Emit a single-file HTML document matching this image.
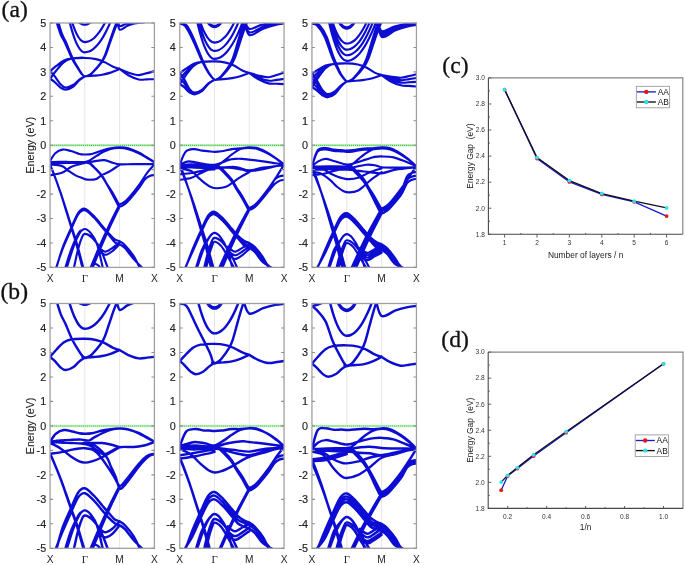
<!DOCTYPE html>
<html><head><meta charset="utf-8"><style>
html,body{margin:0;padding:0;background:#fff;}
svg{display:block;will-change:transform;filter:blur(0.3px);}
.tl{font-family:"Liberation Sans",sans-serif;font-size:10.8px;fill:#222;stroke:#222;stroke-width:0.15px;}
.xl{font-family:"Liberation Sans",sans-serif;font-size:10.2px;fill:#262626;}
.xg{font-family:"Liberation Serif",serif;font-size:10.8px;fill:#262626;}
.yl{font-family:"Liberation Sans",sans-serif;font-size:10.6px;fill:#222;stroke:#222;stroke-width:0.12px;}
.gl{font-family:"Liberation Sans",sans-serif;font-size:6.6px;fill:#333;}
.gt{font-family:"Liberation Sans",sans-serif;font-size:8.4px;fill:#1a1a1a;}
.lg{font-family:"Liberation Sans",sans-serif;font-size:8.4px;fill:#111;}
.pl{font-family:"Liberation Serif",serif;font-size:23.6px;fill:#111;stroke:#111;stroke-width:0.3px;}
</style></head><body>
<svg width="685" height="565" viewBox="0 0 685 565">
<rect width="685" height="565" fill="#fff"/>
<clipPath id="c1"><rect x="50.05" y="23" width="104.35" height="244.4"/></clipPath>
<line x1="84.83" y1="23" x2="84.83" y2="267.4" stroke="#e0e0e0" stroke-width="0.8"/>
<line x1="119.62" y1="23" x2="119.62" y2="267.4" stroke="#e0e0e0" stroke-width="0.8"/>
<line x1="50.05" y1="145.3" x2="154.4" y2="145.3" stroke="#c4f2c4" stroke-width="2.4"/>
<line x1="50.05" y1="145.3" x2="154.4" y2="145.3" stroke="#3cbf3c" stroke-width="1.2" stroke-dasharray="1,1.05"/>
<g clip-path="url(#c1)"><path d="M56.1,20.56C56.83,22.79 59.04,30.33 60.5,33.99C61.96,37.64 63,38.53 64.87,42.51C66.73,46.5 69.44,53.5 71.67,57.89C73.91,62.28 76.49,66.08 78.25,68.87C80.02,71.65 81.15,73.37 82.25,74.61C83.34,75.84 83.9,76.11 84.83,76.28C85.77,76.45 86.62,76.16 87.85,75.61C89.09,75.06 89.98,75.1 92.22,72.99C94.46,70.88 99.07,65.89 101.28,62.96C103.49,60.04 103.99,58.89 105.48,55.44C106.96,51.98 108.68,46.42 110.18,42.23C111.67,38.04 113.07,33.92 114.44,30.31C115.81,26.69 117.74,22.18 118.4,20.56 M57.88,20.56C58.56,22.79 60.63,30.33 62,33.99C63.37,37.64 64.35,38.53 66.1,42.51C67.85,46.5 70.39,53.5 72.49,57.89C74.58,62.28 77.01,66.08 78.66,68.87C80.31,71.65 81.38,73.37 82.41,74.61C83.44,75.84 83.94,76.11 84.83,76.28C85.73,76.45 86.57,76.16 87.76,75.61C88.95,75.06 89.82,75.1 91.99,72.99C94.16,70.88 98.63,65.89 100.77,62.96C102.91,60.04 103.4,58.89 104.83,55.44C106.27,51.98 107.94,46.42 109.39,42.23C110.84,38.04 112.19,33.92 113.52,30.31C114.85,26.69 116.72,22.18 117.36,20.56 M70.18,15.67C70.53,16.84 71.58,20.52 72.27,22.67C72.97,24.83 73.67,26.8 74.37,28.6C75.06,30.39 75.76,32.01 76.46,33.44C77.16,34.88 77.86,36.14 78.55,37.22C79.25,38.29 79.95,39.19 80.65,39.91C81.34,40.63 82.04,41.17 82.74,41.52C83.44,41.88 83.92,42.06 84.83,42.06C85.74,42.06 87.07,41.88 88.2,41.52C89.32,41.17 90.44,40.63 91.56,39.91C92.68,39.19 93.8,38.29 94.92,37.22C96.04,36.14 97.16,34.88 98.28,33.44C99.4,32.01 100.52,30.39 101.64,28.6C102.76,26.8 103.89,24.83 105.01,22.67C106.13,20.52 107.81,16.84 108.37,15.67 M68.11,15.67C68.51,17.29 69.7,22.4 70.5,25.39C71.3,28.39 72.09,31.13 72.89,33.62C73.69,36.12 74.48,38.36 75.28,40.36C76.07,42.35 76.87,44.1 77.67,45.59C78.46,47.09 79.26,48.34 80.06,49.34C80.85,50.33 81.65,51.08 82.44,51.58C83.24,52.08 83.76,52.33 84.83,52.33C85.9,52.33 87.52,52.08 88.86,51.58C90.2,51.08 91.55,50.33 92.89,49.34C94.23,48.34 95.57,47.09 96.92,45.59C98.26,44.1 99.6,42.35 100.94,40.36C102.29,38.36 103.63,36.12 104.97,33.62C106.31,31.13 107.66,28.39 109,25.39C110.34,22.4 112.36,17.29 113.03,15.67 M78.82,22.25C79.16,22.48 80.2,23.26 80.83,23.62C81.45,23.97 81.91,24.18 82.58,24.36C83.25,24.55 84.08,24.71 84.83,24.71C85.58,24.71 86.42,24.55 87.09,24.36C87.76,24.18 88.21,23.97 88.84,23.62C89.47,23.26 90.51,22.48 90.84,22.25 M50.05,71.15C51.09,70.28 54.05,67.69 56.31,65.97C58.57,64.24 61.18,62 63.62,60.78C66.05,59.57 67.38,59.15 70.92,58.68C74.46,58.21 80.66,57.87 84.83,57.95C89.01,58.03 92.72,58.48 95.96,59.17C99.21,59.86 101.53,60.88 104.31,62.1C107.09,63.33 110.11,65.36 112.66,66.5C115.21,67.64 118.46,68.54 119.62,68.95 M50.05,78.72C51.09,77.35 54.05,73.25 56.31,70.51C58.57,67.77 61.18,64.27 63.62,62.3C66.05,60.33 67.38,59.41 70.92,58.68C74.46,57.96 80.66,57.87 84.83,57.95C89.01,58.03 92.72,58.48 95.96,59.17C99.21,59.86 101.53,60.88 104.31,62.1C107.09,63.33 110.11,65.36 112.66,66.5C115.21,67.64 118.46,68.54 119.62,68.95 M50.05,71.15C50.75,71.88 52.48,73.38 54.22,75.57C55.96,77.75 58.57,82.25 60.48,84.25C62.4,86.24 63.62,87.39 65.7,87.52C67.79,87.66 70.75,86.36 73.01,85.05C75.27,83.74 77.3,81.11 79.27,79.65C81.24,78.19 83.91,76.84 84.83,76.28 M50.05,78.72C50.75,79.22 52.48,80.23 54.22,81.69C55.96,83.16 58.57,86.18 60.48,87.52C62.4,88.86 63.62,89.85 65.7,89.72C67.79,89.59 70.75,88.33 73.01,86.76C75.27,85.2 77.3,82.06 79.27,80.31C81.24,78.56 83.91,76.95 84.83,76.28 M84.83,76.28C86.34,76.18 90.98,75.93 93.88,75.67C96.78,75.4 99.44,75.2 102.22,74.69C105.01,74.18 107.67,73.57 110.57,72.61C113.47,71.66 118.11,69.56 119.62,68.95 M119.62,68.95C121.07,69.56 125.12,71.59 128.31,72.61C131.5,73.63 135.62,74.98 138.75,75.06C141.88,75.14 144.49,73.75 147.1,73.1C149.7,72.45 153.18,71.47 154.4,71.15 M119.62,68.95C121.07,70 125.12,73.5 128.31,75.25C131.5,77 135.62,78.78 138.75,79.46C141.88,80.14 144.49,79.37 147.1,79.33C149.7,79.29 153.18,79.23 154.4,79.21 M117.15,18.11C117.56,19.42 118.21,24.97 119.62,25.93C121.03,26.9 123.73,24.45 125.6,23.92C127.47,23.38 129.34,22.98 130.83,22.71C132.33,22.43 133.08,22.42 134.57,22.27C136.07,22.11 138.92,21.86 139.79,21.78 M117.15,18.11C117.56,20.03 117.89,28.31 119.62,29.6C121.34,30.89 125.02,26.84 127.48,25.84C129.93,24.83 132.39,24.09 134.36,23.58C136.32,23.06 137.58,22.97 139.27,22.76C140.96,22.54 143.62,22.35 144.49,22.27 M50.05,161.09C50.92,159.78 53.18,155.18 55.27,153.27C57.35,151.35 59.96,149.97 62.57,149.6C65.18,149.23 68.14,150.33 70.92,151.07C73.7,151.8 76.95,153.43 79.27,154C81.59,154.57 82.75,154.49 84.83,154.49C86.92,154.49 88.89,154.67 91.79,154C94.69,153.33 99.09,151.39 102.22,150.45C105.36,149.52 107.67,148.89 110.57,148.38C113.47,147.87 116.66,147.4 119.62,147.4C122.57,147.4 125.12,147.52 128.31,148.38C131.5,149.23 135.62,151 138.75,152.53C141.88,154.06 144.49,155.99 147.1,157.54C149.7,159.09 153.18,161.11 154.4,161.82 M50.05,162.31C51.79,162.23 57.01,161.86 60.48,161.82C63.96,161.78 66.86,162.02 70.92,162.06C74.98,162.1 81.7,162.35 84.83,162.06C87.96,161.78 87.67,161.43 89.7,160.36C91.73,159.3 94.92,157.01 97.01,155.68C99.09,154.36 99.96,153.56 102.22,152.42C104.49,151.29 107.67,149.64 110.57,148.88C113.47,148.12 116.66,147.85 119.62,147.89C122.57,147.93 125.12,148.21 128.31,149.11C131.5,150.01 135.62,151.78 138.75,153.27C141.88,154.75 144.49,156.52 147.1,158.03C149.7,159.54 153.18,161.6 154.4,162.31 M50.05,163.29C52.66,163.24 59.91,163.12 65.7,163.04C71.5,162.96 80.14,163.08 84.83,162.8C89.53,162.51 90.63,161.78 93.88,161.33C97.12,160.88 101.18,159.88 104.31,160.11C107.44,160.33 110.11,161.98 112.66,162.67C115.21,163.37 116.14,164.02 119.62,164.26C123.09,164.51 127.73,164.18 133.53,164.14C139.33,164.1 150.92,164.04 154.4,164.02 M50.05,175.26C52.02,174.85 58.36,174.2 61.84,172.82C65.32,171.43 67.98,168.38 70.92,166.95C73.86,165.53 77.16,164.91 79.48,164.26C81.8,163.61 83.94,163.24 84.83,163.04 M50.05,164.51C52.02,164.76 58.85,165.01 61.84,166.02C64.83,167.03 65.79,169.05 68,170.57C70.21,172.08 72.82,173.9 75.09,175.11C77.37,176.33 79.58,177.08 81.67,177.84C83.76,178.6 85.18,179.48 87.62,179.66C90.05,179.84 93.96,179.67 96.28,178.93C98.59,178.18 99.29,176.43 101.49,175.19C103.7,173.94 106.51,173.2 109.53,171.46C112.55,169.72 117.94,165.87 119.62,164.75 M84.83,162.31C85.58,162.39 87.52,161.78 89.29,162.8C91.05,163.82 93.36,166.3 95.44,168.42C97.53,170.54 99.86,172.86 101.81,175.51C103.76,178.15 105.36,181.46 107.13,184.3C108.9,187.15 110.68,189.58 112.45,192.57C114.23,195.56 116.58,200.28 117.77,202.24C118.97,204.2 118.38,204.48 119.62,204.34C120.85,204.21 123.49,202.67 125.18,201.41C126.87,200.15 127.39,199.62 129.77,196.77C132.16,193.92 136.56,188.34 139.48,184.3C142.4,180.27 144.82,175.87 147.3,172.57C149.79,169.27 153.22,165.85 154.4,164.51 M84.83,162.8C85.58,162.88 87.52,162.27 89.29,163.29C91.05,164.3 93.36,166.79 95.44,168.91C97.53,171.02 99.86,173.35 101.81,175.99C103.76,178.64 105.36,181.71 107.13,184.79C108.9,187.87 110.68,191.17 112.45,194.47C114.23,197.77 116.58,202.54 117.77,204.59C118.97,206.64 118.38,206.91 119.62,206.79C120.85,206.67 123.49,205.12 125.18,203.86C126.87,202.59 127.39,201.98 129.77,199.21C132.16,196.44 136.94,190.58 139.48,187.24C142.02,183.9 143.22,181.09 145.01,179.17C146.8,177.26 148.66,176.44 150.23,175.75C151.79,175.06 153.7,175.14 154.4,175.02 M50.05,164.75C50.59,166.04 51.56,167.83 53.28,172.45C55.01,177.07 58.41,186.56 60.4,192.47C62.4,198.37 63.58,202.48 65.25,207.86C66.93,213.25 68.6,218.81 70.43,224.8C72.26,230.79 74.26,236.69 76.25,243.79C78.25,250.89 81.21,262.95 82.4,267.4C83.58,271.85 83.21,269.97 83.37,270.48 M50.05,165.24C50.6,166.52 51.6,168.31 53.37,172.9C55.14,177.5 58.62,186.95 60.67,192.82C62.71,198.7 63.93,202.78 65.65,208.15C67.36,213.51 69.08,219.04 70.96,225C72.84,230.96 74.88,236.84 76.93,243.9C78.97,250.97 82.02,262.97 83.23,267.4C84.45,271.83 84.06,269.95 84.23,270.46 M55.79,269.84C56.92,266.18 60.12,254.57 62.57,247.85C65.02,241.13 67.89,235.34 70.5,229.52C73.11,223.69 75.84,216.36 78.22,212.9C80.61,209.44 82.22,208.21 84.83,208.74C87.44,209.27 90.98,213.22 93.88,216.08C96.78,218.93 99.77,223 102.22,225.85C104.68,228.7 106.5,230.94 108.59,233.18C110.68,235.42 112.91,237.95 114.75,239.29C116.58,240.64 117.88,240.23 119.62,241.25C121.36,242.27 122.86,242.96 125.18,245.4C127.5,247.85 130.92,251.84 133.53,255.91C136.14,259.99 139.62,267.52 140.83,269.84 M55.48,269.84C56.66,266.37 60.07,255.52 62.57,249.02C65.08,242.52 67.89,236.61 70.5,230.84C73.11,225.06 75.84,217.8 78.22,214.37C80.61,210.93 82.22,209.68 84.83,210.21C87.44,210.74 90.98,214.69 93.88,217.54C96.78,220.39 99.77,224.47 102.22,227.32C104.68,230.17 106.5,232.17 108.59,234.65C110.68,237.14 112.91,240.64 114.75,242.23C116.58,243.82 117.88,243.16 119.62,244.18C121.36,245.2 122.86,245.89 125.18,248.34C127.5,250.78 130.31,255.26 133.53,258.85C136.75,262.43 142.66,268.01 144.49,269.84 M89.7,269.84C91.35,265.91 96.28,253.8 99.57,246.26C102.87,238.73 106.11,231.64 109.45,224.65C112.79,217.66 117.92,207.73 119.62,204.34 M91.79,269.84C93.32,266.06 97.91,254.4 100.97,247.14C104.03,239.89 107.05,233.06 110.16,226.34C113.26,219.61 118.04,210.05 119.62,206.79 M66.22,269.84C67.37,266.18 70.88,253.96 73.11,247.85C75.34,241.74 77.67,236.32 79.62,233.18C81.58,230.05 82.98,229.03 84.83,229.03C86.68,229.03 88.7,230.66 90.73,233.18C92.76,235.71 94.91,238.07 97,244.18C99.09,250.29 102.22,265.57 103.27,269.84 M73.53,269.84C74.23,266.67 76.35,256.08 77.71,250.78C79.07,245.49 80.48,240.88 81.67,238.07C82.86,235.26 83.04,233.92 84.83,233.92C86.62,233.92 89.8,235.55 92.4,238.07C95,240.6 97.76,243.77 100.44,249.07C103.12,254.37 107.15,266.38 108.49,269.84 M98.05,246.63C98.75,247.24 100.83,249.48 102.22,250.29C103.62,251.11 104.66,251.92 106.4,251.51C108.14,251.11 110.46,249.4 112.66,247.85C114.86,246.3 118.46,243.16 119.62,242.23 M98.05,249.8C98.75,250.41 100.83,252.65 102.22,253.47C103.62,254.28 104.66,255.1 106.4,254.69C108.14,254.28 110.46,252.78 112.66,251.03C114.86,249.27 118.46,245.32 119.62,244.18 M64.66,269.84C65.7,266.59 68.83,255.99 70.92,250.29C73.01,244.59 75.62,238.89 77.18,235.63C78.75,232.37 79.79,231.55 80.31,230.74 M89.7,269.84C90.22,268.95 91.79,265.44 92.83,264.47C93.88,263.49 94.92,263.69 95.96,263.98C97.01,264.26 98.22,265.2 99.09,266.18C99.96,267.16 100.83,269.23 101.18,269.84" fill="none" stroke="#0c0cd2" stroke-width="2.15" stroke-linejoin="round" stroke-linecap="round"/></g>
<rect x="50.05" y="23" width="104.35" height="244.4" fill="none" stroke="#a0a0a0" stroke-width="1.3"/>
<path d="M50.05,267.4h3M154.4,267.4h-3M50.05,242.96h3M154.4,242.96h-3M50.05,218.52h3M154.4,218.52h-3M50.05,194.08h3M154.4,194.08h-3M50.05,169.64h3M154.4,169.64h-3M50.05,145.2h3M154.4,145.2h-3M50.05,120.76h3M154.4,120.76h-3M50.05,96.32h3M154.4,96.32h-3M50.05,71.88h3M154.4,71.88h-3M50.05,47.44h3M154.4,47.44h-3M50.05,23h3M154.4,23h-3" stroke="#909090" stroke-width="1.1" fill="none"/>
<text x="46.15" y="271.25" text-anchor="end" class="tl">-5</text>
<text x="46.15" y="246.81" text-anchor="end" class="tl">-4</text>
<text x="46.15" y="222.37" text-anchor="end" class="tl">-3</text>
<text x="46.15" y="197.93" text-anchor="end" class="tl">-2</text>
<text x="46.15" y="173.49" text-anchor="end" class="tl">-1</text>
<text x="46.15" y="149.05" text-anchor="end" class="tl">0</text>
<text x="46.15" y="124.61" text-anchor="end" class="tl">1</text>
<text x="46.15" y="100.17" text-anchor="end" class="tl">2</text>
<text x="46.15" y="75.73" text-anchor="end" class="tl">3</text>
<text x="46.15" y="51.29" text-anchor="end" class="tl">4</text>
<text x="46.15" y="26.85" text-anchor="end" class="tl">5</text>
<text x="50.05" y="281.6" text-anchor="middle" class="xl">X</text>
<text x="84.83" y="281.6" text-anchor="middle" class="xg">Γ</text>
<text x="119.62" y="281.6" text-anchor="middle" class="xl">M</text>
<text x="154.4" y="281.6" text-anchor="middle" class="xl">X</text>
<text transform="translate(33.6,145.2) rotate(-90)" text-anchor="middle" class="yl">Energy (eV)</text>
<clipPath id="c2"><rect x="179.75" y="23" width="104.3" height="244.4"/></clipPath>
<line x1="214.52" y1="23" x2="214.52" y2="267.4" stroke="#e0e0e0" stroke-width="0.8"/>
<line x1="249.28" y1="23" x2="249.28" y2="267.4" stroke="#e0e0e0" stroke-width="0.8"/>
<line x1="179.75" y1="145.3" x2="284.05" y2="145.3" stroke="#c4f2c4" stroke-width="2.4"/>
<line x1="179.75" y1="145.3" x2="284.05" y2="145.3" stroke="#3cbf3c" stroke-width="1.2" stroke-dasharray="1,1.05"/>
<g clip-path="url(#c2)"><path d="M179.75,23.73C180.62,24.1 182.88,23.41 184.97,25.93C187.05,28.46 189.35,32.86 192.27,38.89C195.19,44.91 199.71,56.32 202.49,62.1C205.27,67.89 206.95,70.66 208.95,73.59C210.96,76.52 213.14,78.8 214.52,79.7C215.9,80.6 216.13,79.57 217.24,78.99C218.34,78.41 219.15,78.45 221.16,76.21C223.18,73.97 227.33,68.67 229.32,65.57C231.31,62.46 231.76,61.25 233.1,57.58C234.43,53.91 235.98,48.01 237.33,43.56C238.67,39.12 239.93,34.74 241.16,30.91C242.4,27.07 244.13,22.28 244.73,20.56 M181,23.73C181.84,24.1 184.02,23.41 186.03,25.93C188.04,28.46 190.25,32.86 193.07,38.89C195.88,44.91 200.24,56.32 202.92,62.1C205.6,67.89 207.22,70.66 209.15,73.59C211.09,76.52 213.15,78.8 214.52,79.7C215.89,80.6 216.21,79.57 217.37,78.99C218.53,78.41 219.37,78.45 221.48,76.21C223.6,73.97 227.95,68.67 230.04,65.57C232.12,62.46 232.6,61.25 234,57.58C235.39,53.91 237.02,48.01 238.43,43.56C239.84,39.12 241.16,34.74 242.45,30.91C243.75,27.07 245.57,22.28 246.19,20.56 M182.25,23.73C183.06,24.1 185.16,23.41 187.09,25.93C189.03,28.46 191.16,32.86 193.87,38.89C196.58,44.91 200.77,56.32 203.35,62.1C205.93,67.89 207.49,70.66 209.35,73.59C211.22,76.52 213.16,78.8 214.52,79.7C215.88,80.6 216.29,79.57 217.51,78.99C218.73,78.41 219.61,78.45 221.83,76.21C224.04,73.97 228.61,68.67 230.8,65.57C232.99,62.46 233.49,61.25 234.96,57.58C236.43,53.91 238.13,48.01 239.61,43.56C241.09,39.12 242.47,34.74 243.83,30.91C245.19,27.07 247.1,22.28 247.75,20.56 M198.21,15.67C198.6,16.86 199.76,20.61 200.54,22.8C201.32,25 202.09,27.01 202.87,28.84C203.65,30.66 204.42,32.31 205.2,33.77C205.97,35.24 206.75,36.52 207.53,37.61C208.3,38.71 209.08,39.63 209.86,40.36C210.63,41.09 211.41,41.64 212.19,42C212.96,42.37 213.58,42.55 214.52,42.55C215.45,42.55 216.69,42.37 217.78,42C218.87,41.64 219.95,41.09 221.04,40.36C222.13,39.63 223.21,38.71 224.3,37.61C225.39,36.52 226.48,35.24 227.56,33.77C228.65,32.31 229.74,30.66 230.82,28.84C231.91,27.01 233,25 234.09,22.8C235.17,20.61 236.8,16.86 237.35,15.67 M197.13,15.67C197.54,17.22 198.78,22.13 199.61,25.01C200.44,27.88 201.27,30.51 202.1,32.91C202.92,35.3 203.75,37.45 204.58,39.37C205.41,41.29 206.24,42.96 207.06,44.4C207.89,45.83 208.72,47.03 209.55,47.99C210.38,48.95 211.2,49.66 212.03,50.14C212.86,50.62 213.47,50.86 214.52,50.86C215.56,50.86 217.05,50.62 218.31,50.14C219.58,49.66 220.84,48.95 222.11,47.99C223.37,47.03 224.64,45.83 225.9,44.4C227.17,42.96 228.43,41.29 229.7,39.37C230.97,37.45 232.23,35.3 233.5,32.91C234.76,30.51 236.03,27.88 237.29,25.01C238.56,22.13 240.45,17.22 241.09,15.67 M195.82,15.67C196.27,17.58 197.6,23.61 198.49,27.14C199.38,30.68 200.27,33.91 201.16,36.86C202.05,39.8 202.94,42.45 203.83,44.8C204.72,47.16 205.62,49.22 206.51,50.98C207.4,52.75 208.29,54.22 209.18,55.4C210.07,56.57 210.96,57.46 211.85,58.04C212.74,58.63 213.34,58.93 214.52,58.93C215.69,58.93 217.42,58.63 218.88,58.04C220.33,57.46 221.78,56.57 223.24,55.4C224.69,54.22 226.14,52.75 227.6,50.98C229.05,49.22 230.5,47.16 231.96,44.8C233.41,42.45 234.86,39.8 236.32,36.86C237.77,33.91 239.22,30.68 240.68,27.14C242.13,23.61 244.31,17.58 245.04,15.67 M206.63,21.17C207.07,21.73 208.44,23.64 209.26,24.5C210.08,25.35 210.68,25.87 211.56,26.31C212.44,26.76 213.53,27.15 214.52,27.15C215.5,27.15 216.6,26.76 217.47,26.31C218.35,25.87 218.95,25.35 219.77,24.5C220.59,23.64 221.96,21.73 222.4,21.17 M207.57,21.71C207.96,22.1 209.16,23.45 209.89,24.06C210.61,24.66 211.14,25.03 211.91,25.34C212.68,25.65 213.65,25.93 214.52,25.93C215.38,25.93 216.35,25.65 217.12,25.34C217.89,25.03 218.42,24.66 219.15,24.06C219.87,23.45 221.08,22.1 221.46,21.71 M179.75,73.35C180.79,72.56 183.75,70.22 186.01,68.65C188.27,67.09 190.88,65.05 193.31,63.96C195.74,62.87 197.08,62.54 200.61,62.1C204.14,61.67 210.34,61.29 214.52,61.37C218.69,61.45 222.4,61.9 225.64,62.59C228.89,63.29 231.2,64.22 233.99,65.53C236.77,66.83 239.78,69.19 242.33,70.41C244.88,71.64 248.12,72.45 249.28,72.86 M179.75,78.72C180.79,77.58 183.75,74.16 186.01,71.88C188.27,69.6 190.88,66.67 193.31,65.04C195.74,63.41 197.08,62.71 200.61,62.1C204.14,61.49 210.34,61.29 214.52,61.37C218.69,61.45 222.4,61.9 225.64,62.59C228.89,63.29 231.2,64.22 233.99,65.53C236.77,66.83 239.78,69.19 242.33,70.41C244.88,71.64 248.12,72.45 249.28,72.86 M179.75,84.1C180.79,82.6 183.75,78.1 186.01,75.11C188.27,72.11 190.88,68.28 193.31,66.11C195.74,63.95 197.08,62.89 200.61,62.1C204.14,61.31 210.34,61.29 214.52,61.37C218.69,61.45 222.4,61.9 225.64,62.59C228.89,63.29 231.2,64.22 233.99,65.53C236.77,66.83 239.78,69.19 242.33,70.41C244.88,71.64 248.12,72.45 249.28,72.86 M179.75,73.35C180.45,74.22 182.32,75.99 183.92,78.56C185.52,81.13 187.57,86.44 189.35,88.79C191.12,91.14 192.47,92.49 194.56,92.65C196.65,92.82 199.6,91.32 201.86,89.8C204.12,88.29 206.01,85.27 208.12,83.59C210.23,81.9 213.45,80.35 214.52,79.7 M179.75,78.72C180.45,79.39 182.32,80.76 183.92,82.75C185.52,84.74 187.57,88.84 189.35,90.65C191.12,92.46 192.47,93.65 194.56,93.63C196.65,93.62 199.6,92.19 201.86,90.57C204.12,88.94 206.01,85.69 208.12,83.88C210.23,82.07 213.45,80.4 214.52,79.7 M179.75,84.1C180.45,84.56 182.32,85.5 183.92,86.87C185.52,88.24 187.57,91.06 189.35,92.31C191.12,93.56 192.47,94.56 194.56,94.36C196.65,94.17 199.6,92.85 201.86,91.14C204.12,89.43 206.01,86.01 208.12,84.1C210.23,82.19 213.45,80.43 214.52,79.7 M214.52,79.7C216.02,79.6 220.66,79.35 223.56,79.09C226.45,78.83 229.12,78.58 231.9,78.11C234.68,77.64 237.35,77.15 240.24,76.28C243.14,75.4 247.78,73.43 249.28,72.86 M249.28,72.86C250.73,73.3 254.79,74.76 257.98,75.5C261.16,76.23 265.28,77.35 268.4,77.26C271.53,77.16 274.14,75.71 276.75,74.94C279.36,74.16 282.83,73 284.05,72.61 M249.28,72.86C250.73,73.64 254.79,76.25 257.98,77.55C261.16,78.85 265.28,80.3 268.4,80.68C271.53,81.06 274.14,80.11 276.75,79.82C279.36,79.54 282.83,79.11 284.05,78.97 M249.28,72.86C250.73,73.91 254.79,77.41 257.98,79.16C261.16,80.91 265.28,82.61 268.4,83.37C271.53,84.13 274.14,83.61 276.75,83.73C279.36,83.86 282.83,84.04 284.05,84.1 M243.48,18.11C244.44,19.9 246.55,27.66 249.28,28.87C252.01,30.08 256.55,26.3 259.85,25.37C263.16,24.44 266.46,23.75 269.1,23.27C271.74,22.8 273.74,22.72 275.71,22.51C277.68,22.3 280.05,22.1 280.92,22.02 M243.48,18.11C244.44,20.47 246.21,30.78 249.28,32.29C252.36,33.8 257.98,28.54 261.94,27.18C265.89,25.82 269.85,24.81 273.01,24.11C276.18,23.42 278.73,23.27 280.92,23C283.11,22.73 285.27,22.59 286.14,22.51 M243.48,18.11C244.44,20.92 246,33.22 249.28,34.98C252.57,36.73 258.84,30.34 263.19,28.66C267.54,26.97 271.88,25.73 275.36,24.87C278.84,24.01 281.73,23.8 284.05,23.49C286.37,23.18 288.4,23.08 289.26,23 M179.75,164.51C180.74,162.38 183.32,154.32 185.66,151.75C188.01,149.18 191.08,149.31 193.83,149.11C196.58,148.91 199.65,150.21 202.17,150.58C204.7,150.94 206.9,151.11 208.95,151.31C211.01,151.51 212.43,151.8 214.52,151.8C216.6,151.8 218.57,151.76 221.47,151.31C224.37,150.86 228.77,149.6 231.9,149.11C235.03,148.62 237.35,148.66 240.24,148.38C243.14,148.09 246.33,147.4 249.28,147.4C252.24,147.4 254.79,147.41 257.98,148.38C261.16,149.34 265.28,151.45 268.4,153.2C271.53,154.96 274.14,157 276.75,158.89C279.36,160.77 282.83,163.57 284.05,164.51 M179.75,164.75C180.62,164.34 183.44,162.88 184.97,162.31C186.49,161.74 187.19,161.33 188.93,161.33C190.67,161.33 192.58,161.82 195.4,162.31C198.21,162.8 202.64,163.86 205.82,164.26C209.01,164.67 211.91,165 214.52,164.75C217.12,164.51 219.09,163.61 221.47,162.8C223.85,161.98 226.51,160.52 228.77,159.86C231.03,159.21 232.77,159.05 235.03,158.89C237.29,158.72 239.95,158.76 242.33,158.89C244.71,159.01 245.81,159.21 249.28,159.62C252.76,160.03 258.79,160.72 263.19,161.33C267.59,161.94 272.23,162.76 275.71,163.29C279.18,163.82 282.66,164.3 284.05,164.51 M179.75,165.24C181.49,165.08 186.7,164.34 190.18,164.26C193.66,164.18 196.55,164.55 200.61,164.75C204.67,164.96 211.39,165.57 214.52,165.49C217.65,165.4 217.36,165.4 219.38,164.26C221.41,163.12 224.6,160.27 226.69,158.64C228.77,157.01 229.64,156.08 231.9,154.49C234.16,152.9 237.35,150.21 240.24,149.11C243.14,148.01 246.33,147.89 249.28,147.89C252.24,147.89 254.79,148.13 257.98,149.11C261.16,150.09 265.28,152.08 268.4,153.75C271.53,155.42 274.14,157.3 276.75,159.13C279.36,160.96 282.83,163.82 284.05,164.75 M179.75,165.97C181.49,166.01 186.7,166.14 190.18,166.22C193.66,166.3 196.55,166.38 200.61,166.46C204.67,166.54 211.04,166.58 214.52,166.71C217.99,166.83 218.57,166.99 221.47,167.2C224.37,167.4 228.42,167.52 231.9,167.93C235.38,168.34 239.43,169.07 242.33,169.64C245.23,170.21 245.81,171.43 249.28,171.35C252.76,171.27 258.79,170.01 263.19,169.15C267.59,168.3 272.23,166.95 275.71,166.22C279.18,165.49 282.66,165 284.05,164.75 M179.75,167.2C182.36,167.28 189.6,167.48 195.4,167.68C201.19,167.89 209.3,168.5 214.52,168.42C219.73,168.34 222.92,167.4 226.69,167.2C230.45,166.99 233.35,166.67 237.12,167.2C240.88,167.73 244.94,170.29 249.28,170.37C253.63,170.45 257.4,168.54 263.19,167.68C268.98,166.83 280.57,165.65 284.05,165.24 M179.75,174.28C181.71,174.08 188.06,173.59 191.54,173.06C195.01,172.53 197.67,171.68 200.61,171.11C203.55,170.54 206.84,169.93 209.16,169.64C211.48,169.35 213.62,169.44 214.52,169.4 M179.75,179.9C181.71,179.54 188.06,178.81 191.54,177.71C195.01,176.61 197.67,174.73 200.61,173.31C203.55,171.88 206.84,170.09 209.16,169.15C211.48,168.21 213.62,167.93 214.52,167.68 M179.75,168.42C181.71,168.87 188.55,169.68 191.54,171.11C194.53,172.53 195.48,174.98 197.69,176.97C199.9,178.97 202.5,181.37 204.78,183.08C207.06,184.79 209.27,186.38 211.35,187.24C213.44,188.09 214.86,188.3 217.3,188.21C219.73,188.13 223.52,187.6 225.95,186.75C228.39,185.89 229.69,184.55 231.9,183.08C234.11,181.62 236.3,179.78 239.2,177.95C242.1,176.12 247.6,173.06 249.28,172.08 M214.52,165.97C215.26,166.06 217.2,165.44 218.97,166.46C220.73,167.48 223.03,169.97 225.12,172.08C227.21,174.2 229.54,176.52 231.48,179.17C233.43,181.82 235.03,185.15 236.8,187.97C238.58,190.79 240.35,193.11 242.12,196.06C243.89,199.02 246.25,203.73 247.44,205.68C248.63,207.63 248.05,207.91 249.28,207.77C250.52,207.63 253.15,206.1 254.85,204.83C256.54,203.57 257.05,203.04 259.44,200.19C261.82,197.34 266.21,191.76 269.14,187.73C272.06,183.69 274.47,179.82 276.96,175.99C279.44,172.17 282.87,166.63 284.05,164.75 M214.52,166.71C215.26,166.79 217.2,166.18 218.97,167.2C220.73,168.21 223.03,170.7 225.12,172.82C227.21,174.94 229.54,177.26 231.48,179.9C233.43,182.55 235.03,185.86 236.8,188.7C238.58,191.55 240.35,193.98 242.12,196.97C243.89,199.96 246.25,204.68 247.44,206.64C248.63,208.6 248.05,208.88 249.28,208.74C250.52,208.61 253.15,207.07 254.85,205.81C256.54,204.55 257.05,203.94 259.44,201.17C261.82,198.4 266.6,192.78 269.14,189.19C271.67,185.61 272.87,181.82 274.66,179.66C276.45,177.5 278.31,176.93 279.88,176.24C281.44,175.55 283.35,175.63 284.05,175.51 M214.52,167.68C215.26,167.77 217.2,167.16 218.97,168.17C220.73,169.19 223.03,171.68 225.12,173.79C227.21,175.91 229.54,178.23 231.48,180.88C233.43,183.53 235.03,186.81 236.8,189.68C238.58,192.55 240.35,195.1 242.12,198.13C243.89,201.16 246.25,205.88 247.44,207.85C248.63,209.83 248.05,210.1 249.28,209.97C250.52,209.83 253.15,208.3 254.85,207.03C256.54,205.77 257.05,205.16 259.44,202.39C261.82,199.62 266.6,193.47 269.14,190.41C271.67,187.36 272.87,185.69 274.66,184.06C276.45,182.43 278.31,181.33 279.88,180.64C281.44,179.95 283.35,180.03 284.05,179.9 M179.75,164.75C180.27,166.04 181.2,167.83 182.86,172.45C184.52,177.07 187.78,186.56 189.7,192.47C191.61,198.37 192.75,202.48 194.36,207.86C195.96,213.25 197.57,218.81 199.33,224.8C201.09,230.79 203.01,236.69 204.93,243.79C206.84,250.89 209.69,262.95 210.83,267.4C211.97,271.85 211.61,269.97 211.76,270.48 M179.75,165.97C180.29,167.24 181.26,169.02 182.98,173.58C184.71,178.15 188.1,187.53 190.1,193.36C192.09,199.19 193.28,203.25 194.95,208.57C196.62,213.9 198.29,219.39 200.12,225.31C201.95,231.22 203.95,237.06 205.94,244.07C207.93,251.09 210.9,263 212.08,267.4C213.27,271.8 212.89,269.94 213.05,270.44 M179.75,167.2C180.31,168.45 181.32,170.2 183.11,174.71C184.9,179.22 188.43,188.49 190.5,194.25C192.57,200.01 193.8,204.02 195.53,209.28C197.27,214.54 199.01,219.97 200.91,225.82C202.81,231.66 204.88,237.42 206.95,244.35C209.02,251.28 212.1,263.06 213.33,267.4C214.57,271.74 214.17,269.91 214.34,270.41 M184.86,269.84C186.09,266.57 189.71,256.48 192.27,250.19C194.82,243.91 197.59,237.88 200.19,232.16C202.8,226.43 205.52,219.25 207.91,215.83C210.3,212.42 211.91,211.15 214.52,211.68C217.12,212.21 220.66,216.16 223.56,219.01C226.45,221.86 229.45,225.93 231.9,228.78C234.35,231.64 236.18,234.08 238.26,236.12C240.35,238.15 242.58,239.86 244.42,241C246.25,242.15 247.54,241.94 249.28,242.96C251.02,243.98 252.53,244.67 254.85,247.11C257.16,249.56 260.76,253.84 263.19,257.62C265.62,261.41 268.4,267.81 269.45,269.84 M184.6,269.84C185.88,266.73 189.67,257.27 192.27,251.17C194.86,245.07 197.59,238.94 200.19,233.26C202.8,227.57 205.52,220.45 207.91,217.05C210.3,213.66 211.91,212.37 214.52,212.9C217.12,213.43 220.66,217.38 223.56,220.23C226.45,223.08 229.45,227.16 231.9,230.01C234.35,232.86 236.18,235.1 238.26,237.34C240.35,239.58 242.58,242.1 244.42,243.45C246.25,244.79 247.54,244.39 249.28,245.4C251.02,246.42 252.53,247.11 254.85,249.56C257.16,252 260.23,256.69 263.19,260.07C266.15,263.45 271.01,268.21 272.58,269.84 M184.29,269.84C185.62,266.93 189.62,258.22 192.27,252.34C194.92,246.47 197.59,240.21 200.19,234.58C202.8,228.94 205.52,221.89 207.91,218.52C210.3,215.15 211.91,213.84 214.52,214.37C217.12,214.89 220.66,218.85 223.56,221.7C226.45,224.55 229.45,228.62 231.9,231.47C234.35,234.32 236.18,236.4 238.26,238.81C240.35,241.21 242.58,244.39 244.42,245.89C246.25,247.4 247.54,246.83 249.28,247.85C251.02,248.87 252.53,249.56 254.85,252C257.16,254.45 259.71,259.54 263.19,262.51C266.67,265.49 273.62,268.62 275.71,269.84 M218.34,269.84C220.04,266.12 225.15,254.63 228.55,247.5C231.96,240.36 235.31,233.63 238.76,227.01C242.22,220.39 247.53,210.97 249.28,207.77 M219.91,269.84C221.52,266.18 226.37,254.87 229.6,247.85C232.83,240.82 236.01,234.2 239.29,227.68C242.58,221.17 247.62,211.9 249.28,208.74 M221.47,269.84C223,266.25 227.59,255.17 230.65,248.29C233.71,241.4 236.72,234.92 239.83,228.53C242.93,222.14 247.71,213.06 249.28,209.97 M196.44,269.84C197.55,266.57 200.96,255.65 203.13,250.19C205.3,244.74 207.56,239.97 209.45,237.09C211.35,234.22 212.69,232.94 214.52,232.94C216.34,232.94 218.39,234.57 220.41,237.09C222.44,239.62 224.59,242.63 226.68,248.09C228.77,253.55 231.9,266.22 232.94,269.84 M203.74,269.84C204.4,267.06 206.43,257.77 207.73,253.13C209.02,248.48 210.37,244.53 211.5,241.98C212.63,239.43 212.75,237.83 214.52,237.83C216.28,237.83 219.48,239.46 222.08,241.98C224.68,244.51 227.44,248.34 230.12,252.98C232.8,257.62 236.82,267.03 238.16,269.84 M205.82,269.84C206.36,267.45 208,259.47 209.04,255.47C210.08,251.48 211.17,248.18 212.08,245.89C213,243.6 213.02,241.74 214.52,241.74C216.02,241.74 218.82,243.37 221.08,245.89C223.34,248.42 225.73,252.9 228.05,256.89C230.38,260.88 233.87,267.69 235.03,269.84 M227.73,246.63C228.42,247.24 230.51,249.48 231.9,250.29C233.29,251.11 234.33,251.92 236.07,251.51C237.81,251.11 240.13,249.07 242.33,247.85C244.53,246.63 248.12,244.79 249.28,244.18 M227.73,250.29C228.42,250.9 230.51,253.14 231.9,253.96C233.29,254.77 234.33,255.59 236.07,255.18C237.81,254.77 240.13,252.94 242.33,251.51C244.53,250.09 248.12,247.44 249.28,246.63 M227.73,253.96C228.42,254.57 230.51,256.81 231.9,257.62C233.29,258.44 234.33,259.25 236.07,258.85C237.81,258.44 240.13,256.81 242.33,255.18C244.53,253.55 248.12,250.09 249.28,249.07 M195.4,269.84C196.44,266.59 199.57,255.38 201.65,250.29C203.74,245.2 206.35,241.82 207.91,239.29C209.48,236.77 210.52,235.83 211.04,235.14" fill="none" stroke="#0c0cd2" stroke-width="2.15" stroke-linejoin="round" stroke-linecap="round"/></g>
<rect x="179.75" y="23" width="104.3" height="244.4" fill="none" stroke="#a0a0a0" stroke-width="1.3"/>
<path d="M179.75,267.4h3M284.05,267.4h-3M179.75,242.96h3M284.05,242.96h-3M179.75,218.52h3M284.05,218.52h-3M179.75,194.08h3M284.05,194.08h-3M179.75,169.64h3M284.05,169.64h-3M179.75,145.2h3M284.05,145.2h-3M179.75,120.76h3M284.05,120.76h-3M179.75,96.32h3M284.05,96.32h-3M179.75,71.88h3M284.05,71.88h-3M179.75,47.44h3M284.05,47.44h-3M179.75,23h3M284.05,23h-3" stroke="#909090" stroke-width="1.1" fill="none"/>
<text x="175.85" y="271.25" text-anchor="end" class="tl">-5</text>
<text x="175.85" y="246.81" text-anchor="end" class="tl">-4</text>
<text x="175.85" y="222.37" text-anchor="end" class="tl">-3</text>
<text x="175.85" y="197.93" text-anchor="end" class="tl">-2</text>
<text x="175.85" y="173.49" text-anchor="end" class="tl">-1</text>
<text x="175.85" y="149.05" text-anchor="end" class="tl">0</text>
<text x="175.85" y="124.61" text-anchor="end" class="tl">1</text>
<text x="175.85" y="100.17" text-anchor="end" class="tl">2</text>
<text x="175.85" y="75.73" text-anchor="end" class="tl">3</text>
<text x="175.85" y="51.29" text-anchor="end" class="tl">4</text>
<text x="175.85" y="26.85" text-anchor="end" class="tl">5</text>
<text x="179.75" y="281.6" text-anchor="middle" class="xl">X</text>
<text x="214.52" y="281.6" text-anchor="middle" class="xg">Γ</text>
<text x="249.28" y="281.6" text-anchor="middle" class="xl">M</text>
<text x="284.05" y="281.6" text-anchor="middle" class="xl">X</text>
<clipPath id="c3"><rect x="311.95" y="23" width="104.5" height="244.4"/></clipPath>
<line x1="346.78" y1="23" x2="346.78" y2="267.4" stroke="#e0e0e0" stroke-width="0.8"/>
<line x1="381.62" y1="23" x2="381.62" y2="267.4" stroke="#e0e0e0" stroke-width="0.8"/>
<line x1="311.95" y1="145.3" x2="416.45" y2="145.3" stroke="#c4f2c4" stroke-width="2.4"/>
<line x1="311.95" y1="145.3" x2="416.45" y2="145.3" stroke="#3cbf3c" stroke-width="1.2" stroke-dasharray="1,1.05"/>
<g clip-path="url(#c3)"><path d="M311.95,23.98C312.8,24.22 314.96,23.33 317.07,25.44C319.18,27.56 322.1,31.47 324.59,36.69C327.09,41.9 329.59,50.86 332.01,56.73C334.43,62.59 337.24,68.34 339.12,71.88C341,75.42 342.02,76.4 343.3,77.99C344.58,79.58 345.72,80.96 346.78,81.41C347.84,81.86 348.49,81.28 349.67,80.68C350.84,80.08 351.7,80.12 353.83,77.82C355.97,75.52 360.38,70.06 362.49,66.87C364.6,63.67 365.08,62.42 366.49,58.65C367.91,54.88 369.55,48.8 370.98,44.23C372.4,39.65 373.74,35.15 375.05,31.21C376.36,27.26 378.2,22.33 378.83,20.56 M313,23.98C313.82,24.22 315.92,23.33 317.96,25.44C320.01,27.56 322.84,31.47 325.26,36.69C327.68,41.9 330.11,50.86 332.46,56.73C334.81,62.59 337.53,68.34 339.35,71.88C341.17,75.42 342.17,76.4 343.4,77.99C344.64,79.58 345.72,80.96 346.78,81.41C347.84,81.86 348.55,81.28 349.76,80.68C350.97,80.08 351.86,80.12 354.06,77.82C356.27,75.52 360.82,70.06 363,66.87C365.18,63.67 365.67,62.42 367.13,58.65C368.6,54.88 370.29,48.8 371.77,44.23C373.24,39.65 374.62,35.15 375.97,31.21C377.32,27.26 379.22,22.33 379.88,20.56 M314.04,23.98C314.84,24.22 316.87,23.33 318.85,25.44C320.83,27.56 323.58,31.47 325.93,36.69C328.27,41.9 330.62,50.86 332.9,56.73C335.18,62.59 337.81,68.34 339.58,71.88C341.35,75.42 342.31,76.4 343.51,77.99C344.71,79.58 345.73,80.96 346.78,81.41C347.84,81.86 348.6,81.28 349.86,80.68C351.11,80.08 352.02,80.12 354.29,77.82C356.57,75.52 361.26,70.06 363.51,66.87C365.76,63.67 366.27,62.42 367.78,58.65C369.29,54.88 371.04,48.8 372.56,44.23C374.08,39.65 375.5,35.15 376.89,31.21C378.29,27.26 380.25,22.33 380.92,20.56 M315.08,23.98C315.86,24.22 317.83,23.33 319.74,25.44C321.66,27.56 324.33,31.47 326.59,36.69C328.86,41.9 331.14,50.86 333.34,56.73C335.55,62.59 338.1,68.34 339.81,71.88C341.52,75.42 342.45,76.4 343.61,77.99C344.78,79.58 345.73,80.96 346.78,81.41C347.84,81.86 348.66,81.28 349.95,80.68C351.24,80.08 352.18,80.12 354.52,77.82C356.87,75.52 361.71,70.06 364.02,66.87C366.34,63.67 366.87,62.42 368.42,58.65C369.97,54.88 371.78,48.8 373.35,44.23C374.91,39.65 376.38,35.15 377.81,31.21C379.25,27.26 381.27,22.33 381.96,20.56 M330.55,15.67C330.94,16.9 332.1,20.79 332.87,23.06C333.64,25.33 334.42,27.42 335.19,29.31C335.96,31.21 336.74,32.92 337.51,34.43C338.28,35.95 339.05,37.27 339.83,38.41C340.6,39.55 341.37,40.5 342.15,41.26C342.92,42.01 343.69,42.58 344.46,42.96C345.24,43.34 345.86,43.53 346.78,43.53C347.71,43.53 348.95,43.34 350.03,42.96C351.11,42.58 352.19,42.01 353.28,41.26C354.36,40.5 355.44,39.55 356.52,38.41C357.6,37.27 358.69,35.95 359.77,34.43C360.85,32.92 361.93,31.21 363.02,29.31C364.1,27.42 365.18,25.33 366.26,23.06C367.34,20.79 368.97,16.9 369.51,15.67 M329.87,15.67C330.27,17.17 331.48,21.91 332.29,24.68C333.09,27.45 333.9,30 334.7,32.31C335.51,34.62 336.31,36.7 337.12,38.55C337.92,40.4 338.73,42.01 339.53,43.4C340.34,44.79 341.15,45.94 341.95,46.87C342.76,47.79 343.56,48.48 344.37,48.95C345.17,49.41 345.77,49.64 346.78,49.64C347.79,49.64 349.22,49.41 350.44,48.95C351.65,48.48 352.87,47.79 354.09,46.87C355.31,45.94 356.52,44.79 357.74,43.4C358.96,42.01 360.18,40.4 361.39,38.55C362.61,36.7 363.83,34.62 365.05,32.31C366.26,30 367.48,27.45 368.7,24.68C369.92,21.91 371.74,17.17 372.35,15.67 M329.03,15.67C329.45,17.42 330.72,22.94 331.57,26.17C332.41,29.4 333.26,32.37 334.1,35.06C334.95,37.75 335.79,40.18 336.64,42.33C337.49,44.49 338.33,46.37 339.18,47.99C340.02,49.6 340.87,50.95 341.71,52.03C342.56,53.11 343.4,53.91 344.25,54.45C345.09,54.99 345.68,55.26 346.78,55.26C347.89,55.26 349.5,54.99 350.86,54.45C352.22,53.91 353.58,53.11 354.94,52.03C356.3,50.95 357.66,49.6 359.02,47.99C360.38,46.37 361.74,44.49 363.1,42.33C364.46,40.18 365.82,37.75 367.18,35.06C368.54,32.37 369.9,29.4 371.26,26.17C372.62,22.94 374.66,17.42 375.34,15.67 M327.57,15.67C328.02,17.67 329.4,23.97 330.31,27.66C331.23,31.35 332.14,34.74 333.06,37.81C333.97,40.89 334.89,43.66 335.8,46.12C336.72,48.58 337.63,50.73 338.55,52.58C339.46,54.42 340.38,55.96 341.29,57.19C342.21,58.42 343.12,59.34 344.04,59.96C344.95,60.57 345.57,60.88 346.78,60.88C347.99,60.88 349.79,60.57 351.3,59.96C352.8,59.34 354.3,58.42 355.81,57.19C357.31,55.96 358.82,54.42 360.32,52.58C361.82,50.73 363.33,48.58 364.83,46.12C366.34,43.66 367.84,40.89 369.34,37.81C370.85,34.74 372.35,31.35 373.86,27.66C375.36,23.97 377.62,17.67 378.37,15.67 M337.75,20.53C338.26,21.28 339.82,23.86 340.76,25.02C341.7,26.18 342.39,26.88 343.4,27.48C344.4,28.08 345.65,28.62 346.78,28.62C347.91,28.62 349.17,28.08 350.17,27.48C351.17,26.88 351.86,26.18 352.8,25.02C353.74,23.86 355.31,21.28 355.81,20.53 M338.7,21.06C339.14,21.65 340.55,23.68 341.39,24.58C342.23,25.49 342.85,26.04 343.75,26.51C344.65,26.98 345.77,27.4 346.78,27.4C347.79,27.4 348.92,26.98 349.82,26.51C350.72,26.04 351.33,25.49 352.18,24.58C353.02,23.68 354.42,21.65 354.87,21.06 M311.95,73.59C313,72.92 315.96,70.92 318.22,69.58C320.48,68.25 323.1,66.5 325.53,65.57C327.97,64.65 329.31,64.43 332.85,64.06C336.39,63.68 342.6,63.24 346.78,63.33C350.96,63.41 354.68,63.86 357.93,64.55C361.18,65.24 363.5,66.14 366.29,67.48C369.08,68.83 372.1,71.35 374.65,72.61C377.2,73.88 380.46,74.65 381.62,75.06 M311.95,78.23C313,77.26 315.96,74.32 318.22,72.37C320.48,70.41 323.1,67.89 325.53,66.5C327.97,65.12 329.31,64.59 332.85,64.06C336.39,63.53 342.6,63.24 346.78,63.33C350.96,63.41 354.68,63.86 357.93,64.55C361.18,65.24 363.5,66.14 366.29,67.48C369.08,68.83 372.1,71.35 374.65,72.61C377.2,73.88 380.46,74.65 381.62,75.06 M311.95,82.88C313,81.59 315.96,77.73 318.22,75.15C320.48,72.58 323.1,69.28 325.53,67.43C327.97,65.58 329.31,64.74 332.85,64.06C336.39,63.37 342.6,63.24 346.78,63.33C350.96,63.41 354.68,63.86 357.93,64.55C361.18,65.24 363.5,66.14 366.29,67.48C369.08,68.83 372.1,71.35 374.65,72.61C377.2,73.88 380.46,74.65 381.62,75.06 M311.95,87.03C313,85.47 315.96,80.78 318.22,77.65C320.48,74.52 323.1,70.53 325.53,68.26C327.97,66 329.31,64.88 332.85,64.06C336.39,63.24 342.6,63.24 346.78,63.33C350.96,63.41 354.68,63.86 357.93,64.55C361.18,65.24 363.5,66.14 366.29,67.48C369.08,68.83 372.1,71.35 374.65,72.61C377.2,73.88 380.46,74.65 381.62,75.06 M311.95,73.59C312.65,74.51 314.39,76.4 316.13,79.13C317.87,81.87 320.48,87.52 322.4,90.01C324.32,92.51 325.53,93.9 327.62,94.12C329.72,94.34 332.68,92.81 334.94,91.32C337.2,89.84 339.24,86.88 341.21,85.22C343.18,83.57 345.85,82.05 346.78,81.41 M311.95,78.23C312.65,78.99 314.39,80.54 316.13,82.79C317.87,85.04 320.48,89.67 322.4,91.73C324.32,93.78 325.53,95.04 327.62,95.1C329.72,95.16 332.68,93.68 334.94,92.09C337.2,90.49 339.24,87.3 341.21,85.52C343.18,83.74 345.85,82.1 346.78,81.41 M311.95,82.88C312.65,83.48 314.39,84.72 316.13,86.51C317.87,88.3 320.48,92 322.4,93.63C324.32,95.27 325.53,96.42 327.62,96.32C329.72,96.22 332.68,94.78 334.94,93.04C337.2,91.3 339.24,87.82 341.21,85.88C343.18,83.95 345.85,82.16 346.78,81.41 M311.95,87.03C312.65,87.49 314.39,88.44 316.13,89.8C317.87,91.17 320.48,94 322.4,95.24C324.32,96.49 325.53,97.54 327.62,97.3C329.72,97.06 332.68,95.66 334.94,93.8C337.2,91.95 339.24,88.24 341.21,86.18C343.18,84.11 345.85,82.21 346.78,81.41 M346.78,81.41C348.29,81.31 352.94,81.07 355.84,80.8C358.74,80.54 361.41,80.25 364.2,79.82C366.99,79.4 369.66,79.03 372.56,78.23C375.46,77.44 380.11,75.59 381.62,75.06 M381.62,75.06C383.07,75.33 387.13,76.22 390.32,76.67C393.52,77.12 397.64,77.85 400.77,77.75C403.91,77.64 406.52,76.61 409.13,76.03C411.75,75.46 415.23,74.61 416.45,74.32 M381.62,75.06C383.07,75.57 387.13,77.28 390.32,78.14C393.52,78.99 397.64,80.03 400.77,80.19C403.91,80.35 406.52,79.46 409.13,79.09C411.75,78.72 415.23,78.17 416.45,77.99 M381.62,75.06C383.07,75.81 387.13,78.34 390.32,79.6C393.52,80.87 397.64,82.19 400.77,82.63C403.91,83.08 406.52,82.39 409.13,82.27C411.75,82.14 415.23,81.96 416.45,81.9 M381.62,75.06C383.07,76.08 387.13,79.51 390.32,81.22C393.52,82.93 397.64,84.54 400.77,85.32C403.91,86.11 406.52,85.73 409.13,85.93C411.75,86.14 415.23,86.44 416.45,86.54 M377.58,18.11C378.25,20.27 378.83,29.65 381.62,31.07C384.4,32.48 390.33,27.81 394.3,26.63C398.26,25.45 402.22,24.57 405.39,23.97C408.56,23.36 411.12,23.24 413.31,23C415.51,22.76 417.67,22.59 418.54,22.51 M377.58,18.11C378.25,20.6 378.62,31.41 381.62,33.02C384.61,34.63 391.2,29.18 395.55,27.78C399.9,26.38 404.26,25.35 407.74,24.63C411.23,23.92 414.13,23.76 416.45,23.49C418.77,23.22 420.8,23.08 421.68,23 M377.58,18.11C378.25,20.92 378.62,33.15 381.62,34.98C384.61,36.8 391.2,30.64 395.55,29.06C399.9,27.48 404.26,26.32 407.74,25.51C411.23,24.71 414.13,24.52 416.45,24.22C418.77,23.93 420.8,23.81 421.68,23.73 M377.58,18.11C378.25,21.25 378.62,34.89 381.62,36.93C384.61,38.97 391.2,32.1 395.55,30.34C399.9,28.59 404.26,27.29 407.74,26.39C411.23,25.49 414.13,25.28 416.45,24.96C418.77,24.63 420.8,24.55 421.68,24.47 M311.95,166.22C312.92,163.56 315.44,153.27 317.74,150.26C320.04,147.24 323.02,148.24 325.74,148.13C328.47,148.02 331.53,149.27 334.1,149.6C336.68,149.93 339.1,149.93 341.21,150.09C343.32,150.25 344.69,150.58 346.78,150.58C348.87,150.58 350.85,150.43 353.75,150.09C356.65,149.74 361.06,148.78 364.2,148.5C367.33,148.21 369.66,148.56 372.56,148.38C375.46,148.19 378.66,147.4 381.62,147.4C384.58,147.4 387.13,147.34 390.32,148.38C393.52,149.42 397.64,151.74 400.77,153.63C403.91,155.53 406.52,157.64 409.13,159.74C411.75,161.84 415.23,165.14 416.45,166.22 M311.95,166.22C312.89,163.76 315.34,154.29 317.57,151.48C319.8,148.67 322.64,149.46 325.33,149.35C328.01,149.24 331.04,150.5 333.69,150.82C336.33,151.15 339.03,151.15 341.21,151.31C343.39,151.47 344.69,151.8 346.78,151.8C348.87,151.8 350.85,151.68 353.75,151.31C356.65,150.94 361.06,149.93 364.2,149.6C367.33,149.27 369.66,149.56 372.56,149.35C375.46,149.15 378.66,148.38 381.62,148.38C384.58,148.38 387.13,148.32 390.32,149.35C393.52,150.39 397.64,152.8 400.77,154.61C403.91,156.42 406.52,158.3 409.13,160.23C411.75,162.17 415.23,165.22 416.45,166.22 M311.95,166.22C313,165.4 315.96,162.55 318.22,161.33C320.48,160.11 322.75,158.89 325.53,158.89C328.32,158.89 331.4,160.39 334.94,161.33C338.48,162.27 343.3,164.26 346.78,164.51C350.27,164.75 352.59,163.65 355.84,162.8C359.09,161.94 363.15,160.35 366.29,159.38C369.42,158.4 372.1,157.42 374.65,156.93C377.2,156.44 378.48,156.36 381.62,156.44C384.75,156.52 389.4,156.52 393.46,157.42C397.52,158.32 402.17,160.35 406,161.82C409.83,163.29 414.71,165.49 416.45,166.22 M311.95,166.71C314.56,166.63 321.82,166.26 327.62,166.22C333.43,166.18 342.78,166.71 346.78,166.46C350.79,166.22 349.63,166.06 351.66,164.75C353.69,163.45 356.88,160.35 358.97,158.64C361.06,156.93 361.94,155.99 364.2,154.49C366.46,152.98 369.66,150.62 372.56,149.6C375.46,148.58 378.66,148.38 381.62,148.38C384.58,148.38 387.13,148.58 390.32,149.6C393.52,150.62 397.64,152.78 400.77,154.49C403.91,156.2 406.52,157.87 409.13,159.86C411.75,161.86 415.23,165.36 416.45,166.46 M311.95,167.2C314.56,167.28 321.82,167.48 327.62,167.68C333.43,167.89 342.08,168.58 346.78,168.42C351.49,168.26 352.59,167.32 355.84,166.71C359.09,166.1 363.15,165 366.29,164.75C369.42,164.51 372.1,164.83 374.65,165.24C377.2,165.65 378.13,166.79 381.62,167.2C385.1,167.6 389.74,167.68 395.55,167.68C401.36,167.68 412.97,167.28 416.45,167.2 M311.95,168.42C314.56,168.5 321.82,168.7 327.62,168.91C333.43,169.11 341.56,169.31 346.78,169.64C352.01,169.97 355.2,170.45 358.97,170.86C362.75,171.27 365.65,171.68 369.43,172.08C373.2,172.49 377.26,173.71 381.62,173.31C385.97,172.9 389.74,170.66 395.55,169.64C401.36,168.62 412.97,167.6 416.45,167.2 M311.95,169.64C313.92,169.6 320.28,169.56 323.76,169.4C327.24,169.23 329.91,168.91 332.85,168.66C335.79,168.42 339.1,168.13 341.42,167.93C343.74,167.73 345.89,167.52 346.78,167.44 M311.95,175.26C313.92,175.02 320.28,174.49 323.76,173.79C327.24,173.1 329.91,171.88 332.85,171.11C335.79,170.33 339.1,169.6 341.42,169.15C343.74,168.7 345.89,168.54 346.78,168.42 M311.95,168.42C313.92,168.62 320.76,168.83 323.76,169.64C326.75,170.45 327.71,172.17 329.92,173.31C332.14,174.45 334.75,175.63 337.03,176.48C339.31,177.34 341.52,177.99 343.61,178.44C345.7,178.89 347.13,179.29 349.57,179.17C352.01,179.05 355.81,178.4 358.24,177.71C360.68,177.01 361.99,176.04 364.2,175.02C366.41,174 368.61,172.69 371.51,171.6C374.42,170.5 379.93,168.95 381.62,168.42 M311.95,172.08C313.34,172.29 317.31,172 320.31,173.31C323.31,174.61 327.14,177.66 329.92,179.9C332.71,182.15 334.75,184.87 337.03,186.75C339.31,188.62 341.52,190.21 343.61,191.15C345.7,192.08 347.13,192.49 349.57,192.37C352.01,192.25 355.81,191.51 358.24,190.41C360.68,189.31 361.99,187.6 364.2,185.77C366.41,183.94 368.61,181.7 371.51,179.42C374.42,177.13 379.93,173.31 381.62,172.08 M346.78,165.97C347.53,166.06 349.47,165.44 351.24,166.46C353.01,167.48 355.32,169.97 357.41,172.08C359.5,174.2 361.83,176.52 363.78,179.17C365.73,181.82 367.33,185.1 369.11,187.97C370.89,190.84 372.66,193.39 374.44,196.42C376.22,199.44 378.57,204.17 379.77,206.14C380.97,208.11 380.38,208.39 381.62,208.26C382.85,208.12 385.49,206.59 387.19,205.32C388.89,204.06 389.4,203.53 391.79,200.68C394.17,197.83 398.58,192.25 401.51,188.21C404.43,184.18 406.85,180.15 409.34,176.48C411.83,172.82 415.27,167.93 416.45,166.22 M346.78,166.71C347.53,166.79 349.47,166.18 351.24,167.2C353.01,168.21 355.32,170.7 357.41,172.82C359.5,174.94 361.83,177.26 363.78,179.9C365.73,182.55 367.33,185.74 369.11,188.7C370.89,191.67 372.66,194.53 374.44,197.68C376.22,200.82 378.57,205.56 379.77,207.57C380.97,209.58 380.38,209.85 381.62,209.72C382.85,209.59 385.49,208.05 387.19,206.79C388.89,205.53 389.4,204.92 391.79,202.15C394.17,199.38 398.96,194.49 401.51,190.17C404.05,185.85 405.25,179.13 407.04,176.24C408.84,173.35 410.7,173.51 412.27,172.82C413.84,172.12 415.75,172.21 416.45,172.08 M346.78,167.68C347.53,167.77 349.47,167.16 351.24,168.17C353.01,169.19 355.32,171.68 357.41,173.79C359.5,175.91 361.83,178.23 363.78,180.88C365.73,183.53 367.33,186.66 369.11,189.68C370.89,192.7 372.66,195.79 374.44,199.01C376.22,202.23 378.57,206.98 379.77,209.01C380.97,211.04 380.38,211.31 381.62,211.19C382.85,211.06 385.49,209.52 387.19,208.26C388.89,206.99 389.4,206.38 391.79,203.61C394.17,200.84 398.96,195.59 401.51,191.64C404.05,187.68 405.25,182.43 407.04,179.9C408.84,177.38 410.7,177.18 412.27,176.48C413.84,175.79 415.75,175.87 416.45,175.75 M346.78,168.42C347.53,168.5 349.47,167.89 351.24,168.91C353.01,169.93 355.32,172.41 357.41,174.53C359.5,176.65 361.83,178.97 363.78,181.62C365.73,184.26 367.33,187.19 369.11,190.41C370.89,193.64 372.66,197.48 374.44,200.97C376.22,204.46 378.57,209.26 379.77,211.37C380.97,213.48 380.38,213.74 381.62,213.63C382.85,213.52 385.49,211.96 387.19,210.7C388.89,209.44 389.4,208.83 391.79,206.06C394.17,203.29 398.96,197.91 401.51,194.08C404.05,190.25 405.25,185.49 407.04,183.08C408.84,180.68 410.7,180.35 412.27,179.66C413.84,178.97 415.75,179.05 416.45,178.93 M311.95,165.97C312.45,167.24 313.35,169.02 314.96,173.58C316.56,178.15 319.72,187.53 321.58,193.36C323.44,199.19 324.54,203.25 326.1,208.57C327.65,213.9 329.21,219.39 330.91,225.31C332.62,231.22 334.47,237.06 336.33,244.07C338.18,251.09 340.94,263 342.05,267.4C343.15,271.8 342.8,269.94 342.95,270.44 M311.95,167.2C312.47,168.45 313.4,170.2 315.06,174.71C316.72,179.22 319.99,188.49 321.92,194.25C323.84,200.01 324.98,204.02 326.59,209.28C328.2,214.54 329.8,219.97 331.57,225.82C333.33,231.66 335.25,237.42 337.17,244.35C339.09,251.28 341.95,263.06 343.09,267.4C344.23,271.74 343.87,269.91 344.03,270.41 M311.95,168.42C312.49,169.66 313.45,171.39 315.17,175.84C316.89,180.3 320.26,189.45 322.25,195.14C324.23,200.83 325.41,204.79 327.08,209.99C328.74,215.19 330.4,220.55 332.23,226.32C334.05,232.1 336.04,237.79 338.02,244.63C340.01,251.48 342.96,263.11 344.14,267.4C345.32,271.69 344.94,269.87 345.1,270.37 M311.95,169.64C312.5,170.86 313.5,172.57 315.27,176.97C317.05,181.37 320.53,190.41 322.58,196.04C324.63,201.66 325.85,205.57 327.57,210.7C329.29,215.83 331,221.13 332.89,226.83C334.77,232.53 336.82,238.15 338.87,244.92C340.92,251.68 343.96,263.16 345.18,267.4C346.4,271.64 346.01,269.84 346.18,270.33 M316.76,269.84C318.05,266.76 321.88,257.43 324.49,251.37C327.1,245.31 329.82,239.16 332.43,233.48C335.04,227.8 337.77,220.69 340.16,217.3C342.56,213.91 344.17,212.61 346.78,213.14C349.4,213.67 352.94,217.62 355.84,220.48C358.74,223.33 361.74,227.4 364.2,230.25C366.66,233.1 368.48,235.59 370.57,237.58C372.66,239.58 374.9,241.13 376.74,242.23C378.58,243.33 379.88,243.16 381.62,244.18C383.36,245.2 384.87,245.89 387.19,248.34C389.51,250.78 393.11,255.26 395.55,258.85C397.99,262.43 400.77,268.01 401.82,269.84 M316.5,269.84C317.83,266.93 321.83,258.22 324.49,252.34C327.15,246.47 329.82,240.21 332.43,234.58C335.04,228.94 337.77,221.89 340.16,218.52C342.56,215.15 344.17,213.84 346.78,214.37C349.4,214.89 352.94,218.85 355.84,221.7C358.74,224.55 361.74,228.62 364.2,231.47C366.66,234.32 368.48,236.73 370.57,238.81C372.66,240.88 374.9,242.76 376.74,243.94C378.58,245.12 379.88,244.87 381.62,245.89C383.36,246.91 384.87,247.6 387.19,250.05C389.51,252.49 392.76,257.26 395.55,260.56C398.34,263.86 402.52,268.3 403.91,269.84 M316.23,269.84C317.61,267.09 321.79,259.02 324.49,253.32C327.19,247.63 329.82,241.27 332.43,235.68C335.04,230.08 337.77,223.09 340.16,219.74C342.56,216.39 344.17,215.06 346.78,215.59C349.4,216.12 352.94,220.07 355.84,222.92C358.74,225.77 361.74,229.84 364.2,232.7C366.66,235.55 368.48,237.83 370.57,240.03C372.66,242.23 374.9,244.59 376.74,245.89C378.58,247.2 379.88,246.83 381.62,247.85C383.36,248.87 384.87,249.56 387.19,252C389.51,254.45 392.42,259.54 395.55,262.51C398.69,265.49 404.26,268.62 406,269.84 M315.97,269.84C317.39,267.25 321.75,259.81 324.49,254.3C327.23,248.79 329.82,242.33 332.43,236.78C335.04,231.22 337.77,224.29 340.16,220.96C342.56,217.64 344.17,216.28 346.78,216.81C349.4,217.34 352.94,221.29 355.84,224.14C358.74,226.99 361.74,231.07 364.2,233.92C366.66,236.77 368.48,238.93 370.57,241.25C372.66,243.57 374.9,246.42 376.74,247.85C378.58,249.27 379.88,248.78 381.62,249.8C383.36,250.82 384.87,251.51 387.19,253.96C389.51,256.4 392.07,261.82 395.55,264.47C399.03,267.11 406,268.95 408.09,269.84 M350.62,269.84C352.32,266.15 357.44,254.75 360.85,247.67C364.26,240.59 367.61,233.92 371.08,227.35C374.54,220.78 379.86,211.44 381.62,208.26 M352.18,269.84C353.8,266.24 358.66,255.11 361.9,248.2C365.13,241.29 368.32,234.77 371.61,228.36C374.9,221.95 379.95,212.83 381.62,209.72 M353.75,269.84C355.28,266.32 359.88,255.47 362.95,248.73C366.01,241.98 369.03,235.63 372.14,229.37C375.25,223.11 380.04,214.22 381.62,211.19 M355.32,269.84C356.76,266.47 361.1,256.07 364,249.61C366.89,243.14 369.74,237.05 372.67,231.06C375.61,225.06 380.13,216.54 381.62,213.63 M328.67,269.84C329.79,266.69 333.2,256.18 335.37,250.93C337.55,245.67 339.81,241.11 341.71,238.32C343.61,235.52 344.95,234.16 346.78,234.16C348.61,234.16 350.66,235.79 352.69,238.32C354.72,240.84 356.88,244.06 358.97,249.31C361.06,254.57 364.2,266.42 365.25,269.84 M335.99,269.84C336.65,267.3 338.68,258.83 339.98,254.59C341.28,250.36 342.63,246.81 343.76,244.43C344.89,242.04 345.02,240.27 346.78,240.27C348.55,240.27 351.76,241.9 354.36,244.43C356.97,246.95 359.73,251.19 362.42,255.42C365.1,259.66 369.13,267.44 370.47,269.84 M338.07,269.84C338.61,267.57 340.25,259.99 341.3,256.21C342.34,252.42 343.43,249.32 344.34,247.11C345.26,244.91 345.28,242.96 346.78,242.96C348.29,242.96 351.1,244.59 353.36,247.11C355.62,249.64 358.02,254.32 360.35,258.11C362.68,261.9 366.17,267.89 367.33,269.84 M360.02,247.85C360.72,248.46 362.81,250.7 364.2,251.51C365.59,252.33 366.64,253.14 368.38,252.74C370.12,252.33 372.44,250.29 374.65,249.07C376.86,247.85 380.46,246.01 381.62,245.4 M360.02,250.29C360.72,250.9 362.81,253.14 364.2,253.96C365.59,254.77 366.64,255.59 368.38,255.18C370.12,254.77 372.44,252.74 374.65,251.51C376.86,250.29 380.46,248.46 381.62,247.85 M360.02,252.74C360.72,253.35 362.81,255.59 364.2,256.4C365.59,257.22 366.64,258.03 368.38,257.62C370.12,257.22 372.44,255.18 374.65,253.96C376.86,252.74 380.46,250.9 381.62,250.29 M360.02,255.18C360.72,255.79 362.81,258.03 364.2,258.85C365.59,259.66 366.64,260.48 368.38,260.07C370.12,259.66 372.44,257.62 374.65,256.4C376.86,255.18 380.46,253.35 381.62,252.74 M327.62,269.84C328.67,266.59 331.81,255.18 333.89,250.29C335.98,245.4 338.6,242.88 340.16,240.52C341.73,238.15 342.78,236.85 343.3,236.12" fill="none" stroke="#0c0cd2" stroke-width="2.15" stroke-linejoin="round" stroke-linecap="round"/></g>
<rect x="311.95" y="23" width="104.5" height="244.4" fill="none" stroke="#a0a0a0" stroke-width="1.3"/>
<path d="M311.95,267.4h3M416.45,267.4h-3M311.95,242.96h3M416.45,242.96h-3M311.95,218.52h3M416.45,218.52h-3M311.95,194.08h3M416.45,194.08h-3M311.95,169.64h3M416.45,169.64h-3M311.95,145.2h3M416.45,145.2h-3M311.95,120.76h3M416.45,120.76h-3M311.95,96.32h3M416.45,96.32h-3M311.95,71.88h3M416.45,71.88h-3M311.95,47.44h3M416.45,47.44h-3M311.95,23h3M416.45,23h-3" stroke="#909090" stroke-width="1.1" fill="none"/>
<text x="308.05" y="271.25" text-anchor="end" class="tl">-5</text>
<text x="308.05" y="246.81" text-anchor="end" class="tl">-4</text>
<text x="308.05" y="222.37" text-anchor="end" class="tl">-3</text>
<text x="308.05" y="197.93" text-anchor="end" class="tl">-2</text>
<text x="308.05" y="173.49" text-anchor="end" class="tl">-1</text>
<text x="308.05" y="149.05" text-anchor="end" class="tl">0</text>
<text x="308.05" y="124.61" text-anchor="end" class="tl">1</text>
<text x="308.05" y="100.17" text-anchor="end" class="tl">2</text>
<text x="308.05" y="75.73" text-anchor="end" class="tl">3</text>
<text x="308.05" y="51.29" text-anchor="end" class="tl">4</text>
<text x="308.05" y="26.85" text-anchor="end" class="tl">5</text>
<text x="311.95" y="281.6" text-anchor="middle" class="xl">X</text>
<text x="346.78" y="281.6" text-anchor="middle" class="xg">Γ</text>
<text x="381.62" y="281.6" text-anchor="middle" class="xl">M</text>
<text x="416.45" y="281.6" text-anchor="middle" class="xl">X</text>
<clipPath id="c4"><rect x="50.05" y="303.5" width="104.35" height="244.8"/></clipPath>
<line x1="84.83" y1="303.5" x2="84.83" y2="548.3" stroke="#e0e0e0" stroke-width="0.8"/>
<line x1="119.62" y1="303.5" x2="119.62" y2="548.3" stroke="#e0e0e0" stroke-width="0.8"/>
<line x1="50.05" y1="426" x2="154.4" y2="426" stroke="#c4f2c4" stroke-width="2.4"/>
<line x1="50.05" y1="426" x2="154.4" y2="426" stroke="#3cbf3c" stroke-width="1.2" stroke-dasharray="1,1.05"/>
<g clip-path="url(#c4)"><path d="M56.62,301.05C57.34,303.32 59.51,310.97 60.94,314.68C62.37,318.39 63.4,319.29 65.23,323.33C67.06,327.38 69.72,334.48 71.91,338.94C74.1,343.4 76.64,347.25 78.37,350.08C80.1,352.91 81.22,354.65 82.29,355.9C83.37,357.16 83.92,357.43 84.83,357.6C85.74,357.77 86.57,357.48 87.76,356.92C88.95,356.37 89.82,356.4 91.99,354.26C94.16,352.12 98.63,347.05 100.77,344.09C102.91,341.12 103.4,339.96 104.83,336.45C106.27,332.95 107.94,327.3 109.39,323.05C110.84,318.8 112.19,314.61 113.52,310.95C114.85,307.28 116.72,302.7 117.36,301.05 M67.6,296.16C68.01,297.6 69.24,302.14 70.06,304.79C70.88,307.45 71.7,309.89 72.52,312.1C73.34,314.32 74.17,316.31 74.99,318.08C75.81,319.85 76.63,321.41 77.45,322.73C78.27,324.06 79.09,325.17 79.91,326.06C80.73,326.94 81.55,327.61 82.37,328.05C83.19,328.49 83.75,328.71 84.83,328.71C85.91,328.71 87.52,328.49 88.86,328.05C90.2,327.61 91.54,326.94 92.89,326.06C94.23,325.17 95.57,324.06 96.91,322.73C98.25,321.41 99.6,319.85 100.94,318.08C102.28,316.31 103.62,314.32 104.96,312.1C106.31,309.89 107.65,307.45 108.99,304.79C110.33,302.14 112.34,297.6 113.02,296.16 M79.2,302.96C79.51,303.12 80.49,303.69 81.08,303.94C81.66,304.19 82.09,304.35 82.72,304.48C83.35,304.61 84.13,304.72 84.83,304.72C85.54,304.72 86.32,304.61 86.95,304.48C87.57,304.35 88,304.19 88.59,303.94C89.18,303.69 90.16,303.12 90.47,302.96 M79.95,303.39C80.22,303.42 81.07,303.54 81.58,303.59C82.09,303.64 82.46,303.67 83,303.7C83.54,303.72 84.22,303.74 84.83,303.74C85.44,303.74 86.12,303.72 86.66,303.7C87.21,303.67 87.58,303.64 88.09,303.59C88.6,303.54 89.45,303.42 89.72,303.39 M50.05,356.87C51.09,355.68 54.05,352.1 56.31,349.72C58.57,347.34 61.18,344.28 63.62,342.57C66.05,340.86 67.38,340.12 70.92,339.49C74.46,338.85 80.66,338.67 84.83,338.75C89.01,338.83 92.72,339.28 95.96,339.98C99.21,340.67 101.53,341.65 104.31,342.91C107.09,344.18 110.11,346.38 112.66,347.56C115.21,348.75 118.46,349.6 119.62,350.01 M50.05,356.87C50.75,357.46 52.47,358.67 54.22,360.44C55.98,362.2 58.66,365.83 60.59,367.44C62.52,369.05 63.72,370.1 65.81,370.09C67.89,370.07 70.85,368.8 73.11,367.34C75.37,365.88 77.42,362.97 79.37,361.35C81.33,359.72 83.92,358.23 84.83,357.6 M84.83,357.6C86.34,357.5 90.98,357.25 93.88,356.99C96.78,356.72 99.44,356.54 102.22,356.01C105.01,355.48 107.67,354.81 110.57,353.81C113.47,352.81 118.11,350.64 119.62,350.01 M119.62,350.01C121.07,350.84 125.12,353.62 128.31,355.01C131.5,356.39 135.62,357.9 138.75,358.34C141.88,358.77 144.49,357.85 147.1,357.6C149.7,357.36 153.18,356.99 154.4,356.87 M116.1,298.6C116.69,300.48 117.75,308.72 119.62,309.86C121.49,311.01 124.76,306.71 127.33,305.46C129.9,304.21 132.43,303.11 135.04,302.37C137.65,301.64 141.67,301.27 142.99,301.05 M82.54,357.23C82.92,357.38 84.02,358.08 84.83,358.09C85.65,358.1 87.01,357.44 87.44,357.31 M50.05,441.81C51.02,440.47 53.57,435.69 55.88,433.73C58.19,431.78 61.2,430.43 63.93,430.06C66.66,429.69 69.72,431 72.28,431.53C74.83,432.06 77.18,432.88 79.27,433.24C81.36,433.61 82.75,433.73 84.83,433.73C86.92,433.73 88.89,433.77 91.79,433.24C94.69,432.71 99.09,431.2 102.22,430.55C105.36,429.9 107.67,429.69 110.57,429.33C113.47,428.96 116.66,428.35 119.62,428.35C122.57,428.35 125.12,428.5 128.31,429.33C131.5,430.15 135.62,431.86 138.75,433.31C141.88,434.75 144.49,436.6 147.1,438.02C149.7,439.44 153.18,441.18 154.4,441.81 M50.05,441.81C51.79,441.61 57.01,440.91 60.48,440.59C63.96,440.26 67.44,440.02 70.92,439.85C74.4,439.69 78.4,439.49 81.35,439.61C84.31,439.73 86.57,440.91 88.66,440.59C90.75,440.26 91.62,438.87 93.88,437.65C96.14,436.43 99.44,434.55 102.22,433.24C105.01,431.94 107.67,430.59 110.57,429.82C113.47,429.04 116.66,428.63 119.62,428.59C122.57,428.55 125.12,428.84 128.31,429.57C131.5,430.31 135.62,431.69 138.75,433C141.88,434.3 144.49,435.94 147.1,437.41C149.7,438.87 153.18,441.08 154.4,441.81 M50.05,441.81C51.79,441.93 57.01,442.34 60.48,442.55C63.96,442.75 67.44,442.87 70.92,443.04C74.4,443.2 78.22,443.12 81.35,443.53C84.49,443.93 87.09,444.34 89.7,445.48C92.31,446.63 95.09,449.07 97.01,450.38C98.92,451.69 99.79,452.71 101.18,453.32C102.57,453.93 103.79,454.34 105.36,454.05C106.92,453.77 108.2,452.75 110.57,451.6C112.95,450.46 115.79,447.97 119.62,447.2C123.44,446.42 129.47,447.24 133.53,446.95C137.59,446.67 141.18,446.06 143.97,445.48C146.75,444.91 148.49,444.1 150.23,443.53C151.97,442.95 153.7,442.3 154.4,442.06 M84.83,443.53C85.99,443.44 88.89,443.12 91.79,443.04C94.69,442.95 99.09,442.79 102.22,443.04C105.36,443.28 107.67,443.81 110.57,444.5C113.47,445.2 118.11,446.75 119.62,447.2 M50.05,443.04C51.79,443.93 57.01,446.18 60.48,448.42C63.96,450.67 67.79,454.34 70.92,456.5C74.05,458.66 76.95,460.38 79.27,461.4C81.59,462.42 82.75,462.62 84.83,462.62C86.92,462.62 88.89,462.29 91.79,461.4C94.69,460.5 99.09,458.74 102.22,457.23C105.36,455.72 107.67,454.01 110.57,452.34C113.47,450.67 118.11,448.05 119.62,447.2 M50.05,453.81C51.79,453.56 57.01,452.99 60.48,452.34C63.96,451.69 67.79,450.54 70.92,449.89C74.05,449.24 76.95,448.71 79.27,448.42C81.59,448.14 82.75,448.01 84.83,448.18C86.92,448.34 89.76,448.63 91.79,449.4C93.82,450.18 95.27,451.24 97.01,452.83C98.75,454.42 100.45,456.62 102.22,458.95C104,461.27 105.74,463.93 107.65,466.78C109.56,469.64 111.71,472.9 113.7,476.08C115.7,479.27 117.7,485.06 119.62,485.88C121.53,486.69 122.38,484.16 125.18,480.98C127.99,477.8 133.32,470.54 136.45,466.78C139.58,463.03 141.84,460.46 143.97,458.46C146.09,456.46 147.44,455.56 149.18,454.79C150.92,454.01 153.53,453.97 154.4,453.81 M81.35,443.53C81.93,443.44 83.44,443.04 84.83,443.04C86.22,443.04 88.02,443.12 89.7,443.53C91.38,443.93 92.83,444.14 94.92,445.48C97.01,446.83 100.14,449.44 102.22,451.6C104.31,453.77 105.98,455.93 107.44,458.46C108.9,460.99 109.6,463.64 110.99,466.78C112.38,469.92 114.35,473.72 115.79,477.31C117.23,480.9 118.05,487.1 119.62,488.32C121.18,489.55 121.99,488.24 125.18,484.65C128.37,481.06 135.44,470.94 138.75,466.78C142.05,462.62 143.1,461.56 145.01,459.68C146.92,457.81 148.66,456.38 150.23,455.52C151.79,454.66 153.7,454.7 154.4,454.54 M50.05,453.81C50.61,454.99 51.61,456.64 53.39,460.89C55.17,465.15 58.68,473.89 60.74,479.32C62.79,484.75 64.02,488.53 65.74,493.49C67.47,498.46 69.19,503.57 71.09,509.09C72.98,514.6 75.04,520.03 77.1,526.57C79.16,533.1 82.22,544.21 83.44,548.3C84.67,552.39 84.28,550.66 84.44,551.13 M50.05,454.3C50.62,455.47 51.64,457.12 53.45,461.35C55.27,465.58 58.84,474.27 60.94,479.68C63.03,485.08 64.28,488.84 66.04,493.78C67.8,498.71 69.55,503.81 71.48,509.29C73.41,514.77 75.51,520.18 77.6,526.68C79.7,533.18 82.82,544.23 84.07,548.3C85.32,552.37 84.92,550.65 85.09,551.12 M56.05,550.75C57.14,546.91 60.16,534.65 62.57,527.74C64.98,520.82 67.89,515.13 70.5,509.25C73.11,503.38 75.84,495.97 78.22,492.49C80.61,489 82.22,487.79 84.83,488.32C87.44,488.85 90.98,492.81 93.88,495.67C96.78,498.52 99.77,502.6 102.22,505.46C104.68,508.32 106.5,510.48 108.59,512.8C110.68,515.13 112.91,517.99 114.75,519.41C116.58,520.84 117.88,520.35 119.62,521.37C121.36,522.39 122.86,523.09 125.18,525.53C127.5,527.98 130.92,531.86 133.53,536.06C136.14,540.26 139.62,548.3 140.83,550.75 M55.01,550.75C56.27,547.57 59.99,537.83 62.57,531.65C65.15,525.47 67.89,519.37 70.5,513.66C73.11,507.95 75.84,500.79 78.22,497.38C80.61,493.97 82.22,492.69 84.83,493.22C87.44,493.75 90.98,497.71 93.88,500.56C96.78,503.42 99.77,507.5 102.22,510.36C104.68,513.21 106.5,515.54 108.59,517.7C110.68,519.86 112.91,522.07 114.75,523.33C116.58,524.6 117.88,524.27 119.62,525.29C121.36,526.31 122.86,527 125.18,529.45C127.5,531.9 130.31,536.43 133.53,539.98C136.75,543.53 142.66,548.95 144.49,550.75 M89.7,550.75C91.35,546.86 96.28,534.85 99.57,527.39C102.87,519.93 106.11,512.91 109.45,505.99C112.79,499.07 117.92,489.23 119.62,485.88 M91.79,550.75C93.32,546.96 97.91,535.27 100.97,528.01C104.03,520.75 107.05,513.91 110.16,507.17C113.26,500.43 118.04,490.85 119.62,487.59 M66.22,550.75C67.37,547.12 70.88,535.05 73.11,529.01C75.34,522.97 77.67,517.63 79.62,514.52C81.58,511.41 82.98,510.36 84.83,510.36C86.68,510.36 88.7,511.99 90.73,514.52C92.76,517.05 94.91,519.5 97,525.53C99.09,531.57 102.22,546.55 103.27,550.75 M73.53,550.75C74.23,547.64 76.35,537.28 77.71,532.09C79.07,526.91 80.48,522.42 81.67,519.66C82.86,516.89 83.04,515.5 84.83,515.5C86.62,515.5 89.8,517.13 92.4,519.66C95,522.19 97.76,525.49 100.44,530.67C103.12,535.86 107.15,547.4 108.49,550.75 M98.05,527.25C98.75,527.86 100.83,530.1 102.22,530.92C103.62,531.74 104.66,532.55 106.4,532.14C108.14,531.74 110.46,530.27 112.66,528.47C114.86,526.68 118.46,522.56 119.62,521.37 M98.05,532.39C98.75,533 100.83,535.24 102.22,536.06C103.62,536.88 104.66,537.69 106.4,537.28C108.14,536.88 110.46,535.61 112.66,533.61C114.86,531.61 118.46,526.68 119.62,525.29 M64.66,550.75C65.7,547.48 68.83,536.67 70.92,531.16C73.01,525.66 75.62,520.76 77.18,517.7C78.75,514.64 79.79,513.62 80.31,512.8 M89.7,550.75C90.22,549.85 91.79,546.34 92.83,545.36C93.88,544.38 94.92,544.59 95.96,544.87C97.01,545.16 98.22,546.1 99.09,547.08C99.96,548.06 100.83,550.14 101.18,550.75" fill="none" stroke="#0c0cd2" stroke-width="2.45" stroke-linejoin="round" stroke-linecap="round"/></g>
<rect x="50.05" y="303.5" width="104.35" height="244.8" fill="none" stroke="#a0a0a0" stroke-width="1.3"/>
<path d="M50.05,548.3h3M154.4,548.3h-3M50.05,523.82h3M154.4,523.82h-3M50.05,499.34h3M154.4,499.34h-3M50.05,474.86h3M154.4,474.86h-3M50.05,450.38h3M154.4,450.38h-3M50.05,425.9h3M154.4,425.9h-3M50.05,401.42h3M154.4,401.42h-3M50.05,376.94h3M154.4,376.94h-3M50.05,352.46h3M154.4,352.46h-3M50.05,327.98h3M154.4,327.98h-3M50.05,303.5h3M154.4,303.5h-3" stroke="#909090" stroke-width="1.1" fill="none"/>
<text x="46.15" y="552.15" text-anchor="end" class="tl">-5</text>
<text x="46.15" y="527.67" text-anchor="end" class="tl">-4</text>
<text x="46.15" y="503.19" text-anchor="end" class="tl">-3</text>
<text x="46.15" y="478.71" text-anchor="end" class="tl">-2</text>
<text x="46.15" y="454.23" text-anchor="end" class="tl">-1</text>
<text x="46.15" y="429.75" text-anchor="end" class="tl">0</text>
<text x="46.15" y="405.27" text-anchor="end" class="tl">1</text>
<text x="46.15" y="380.79" text-anchor="end" class="tl">2</text>
<text x="46.15" y="356.31" text-anchor="end" class="tl">3</text>
<text x="46.15" y="331.83" text-anchor="end" class="tl">4</text>
<text x="46.15" y="307.35" text-anchor="end" class="tl">5</text>
<text x="50.05" y="562.5" text-anchor="middle" class="xl">X</text>
<text x="84.83" y="562.5" text-anchor="middle" class="xg">Γ</text>
<text x="119.62" y="562.5" text-anchor="middle" class="xl">M</text>
<text x="154.4" y="562.5" text-anchor="middle" class="xl">X</text>
<text transform="translate(33.6,425.9) rotate(-90)" text-anchor="middle" class="yl">Energy (eV)</text>
<clipPath id="c5"><rect x="179.75" y="303.5" width="104.3" height="244.8"/></clipPath>
<line x1="214.52" y1="303.5" x2="214.52" y2="548.3" stroke="#e0e0e0" stroke-width="0.8"/>
<line x1="249.28" y1="303.5" x2="249.28" y2="548.3" stroke="#e0e0e0" stroke-width="0.8"/>
<line x1="179.75" y1="426" x2="284.05" y2="426" stroke="#c4f2c4" stroke-width="2.4"/>
<line x1="179.75" y1="426" x2="284.05" y2="426" stroke="#3cbf3c" stroke-width="1.2" stroke-dasharray="1,1.05"/>
<g clip-path="url(#c5)"><path d="M179.75,303.74C180.45,303.83 182.53,303.46 183.92,304.23C185.31,305.01 185.9,304.56 188.09,308.4C190.28,312.23 193.5,319.98 197.06,327.25C200.63,334.51 206.89,346.34 209.48,351.97C212.07,357.6 211.76,359.19 212.6,361.03C213.44,362.86 213.75,362.78 214.52,362.99C215.28,363.19 216.09,362.85 217.18,362.24C218.26,361.63 219.05,361.68 221.03,359.33C223,356.99 227.07,351.44 229.01,348.18C230.96,344.93 231.41,343.66 232.71,339.82C234.02,335.98 235.54,329.8 236.85,325.14C238.17,320.49 239.4,315.91 240.61,311.89C241.82,307.88 243.52,302.86 244.1,301.05 M196.67,296.16C197.09,297.8 198.37,302.99 199.22,306.03C200.07,309.07 200.92,311.85 201.77,314.38C202.62,316.91 203.47,319.19 204.32,321.22C205.17,323.24 206.02,325.01 206.87,326.53C207.72,328.05 208.57,329.32 209.42,330.33C210.27,331.34 211.12,332.1 211.97,332.61C212.82,333.11 213.46,333.37 214.52,333.37C215.57,333.37 217.03,333.11 218.29,332.61C219.54,332.1 220.8,331.34 222.06,330.33C223.31,329.32 224.57,328.05 225.83,326.53C227.08,325.01 228.34,323.24 229.6,321.22C230.85,319.19 232.11,316.91 233.37,314.38C234.62,311.85 235.88,309.07 237.14,306.03C238.39,302.99 240.28,297.8 240.91,296.16 M205.88,301.24C206.36,301.92 207.86,304.29 208.76,305.35C209.66,306.41 210.32,307.05 211.28,307.6C212.24,308.15 213.44,308.64 214.52,308.64C215.6,308.64 216.8,308.15 217.76,307.6C218.71,307.05 219.37,306.41 220.27,305.35C221.17,304.29 222.67,301.92 223.15,301.24 M206.82,301.78C207.25,302.3 208.58,304.1 209.39,304.91C210.19,305.72 210.77,306.21 211.63,306.62C212.49,307.04 213.55,307.42 214.52,307.42C215.48,307.42 216.55,307.04 217.4,306.62C218.26,306.21 218.85,305.72 219.65,304.91C220.45,304.1 221.79,302.3 222.21,301.78 M179.75,361.03C180.79,359.9 183.75,356.52 186.01,354.27C188.27,352.02 190.88,349.12 193.31,347.52C195.74,345.91 197.08,345.23 200.61,344.63C204.14,344.02 210.34,343.81 214.52,343.89C218.69,343.97 222.4,344.42 225.64,345.12C228.89,345.81 231.2,346.83 233.99,348.05C236.77,349.28 239.78,351.32 242.33,352.46C244.88,353.6 248.12,354.5 249.28,354.91 M179.75,361.03C180.45,361.62 182.11,362.83 183.92,364.6C185.73,366.36 188.62,370 190.6,371.6C192.58,373.21 193.73,374.22 195.81,374.25C197.9,374.27 200.85,373.08 203.11,371.77C205.37,370.46 207.47,367.83 209.37,366.36C211.27,364.9 213.66,363.55 214.52,362.99 M214.52,362.99C216.02,362.88 220.66,362.64 223.56,362.37C226.45,362.11 229.12,361.97 231.9,361.4C234.68,360.82 237.35,360.03 240.24,358.95C243.14,357.87 247.78,355.58 249.28,354.91 M249.28,354.91C250.73,355.72 254.79,358.41 257.98,359.76C261.16,361.1 265.28,362.61 268.4,362.99C271.53,363.36 274.14,362.33 276.75,362.01C279.36,361.68 282.83,361.19 284.05,361.03 M242.85,298.6C243.92,301.09 245.89,311.95 249.28,313.54C252.67,315.13 258.84,309.59 263.19,308.15C267.54,306.72 271.88,305.65 275.36,304.92C278.84,304.19 281.73,304.02 284.05,303.74C286.37,303.47 288.4,303.34 289.26,303.26 M212.22,362.62C212.6,362.76 213.7,363.46 214.52,363.48C215.33,363.49 216.69,362.82 217.12,362.69 M179.75,446.22C180.85,443.75 183.74,434.29 186.36,431.43C188.99,428.58 192.59,429.23 195.5,429.08C198.41,428.94 201.6,430.31 203.84,430.55C206.09,430.8 207.18,430.47 208.95,430.55C210.73,430.63 212.43,431.04 214.52,431.04C216.6,431.04 218.57,430.88 221.47,430.55C224.37,430.22 228.77,429.33 231.9,429.08C235.03,428.84 237.35,429.25 240.24,429.08C243.14,428.92 246.33,428.1 249.28,428.1C252.24,428.1 254.79,428.07 257.98,429.08C261.16,430.09 265.28,432.33 268.4,434.16C271.53,436 274.14,438.09 276.75,440.1C279.36,442.11 282.83,445.2 284.05,446.22 M179.75,446.22C181.49,445.69 187.57,443.73 190.18,443.04C192.79,442.34 192.79,441.98 195.4,442.06C198,442.14 202.64,442.95 205.82,443.53C209.01,444.1 211.56,445.97 214.52,445.48C217.47,444.99 220.66,442.38 223.56,440.59C226.45,438.79 229.12,436.51 231.9,434.71C234.68,432.92 237.35,430.88 240.24,429.82C243.14,428.76 246.33,428.39 249.28,428.35C252.24,428.31 254.79,428.63 257.98,429.57C261.16,430.51 265.28,432.31 268.4,433.98C271.53,435.65 274.14,437.57 276.75,439.61C279.36,441.65 282.83,445.12 284.05,446.22 M179.75,446.71C182.36,446.5 189.6,445.48 195.4,445.48C201.19,445.48 209.3,447.03 214.52,446.71C219.73,446.38 222.05,444.42 226.69,443.53C231.32,442.63 238.56,441.57 242.33,441.32C246.1,441.08 245.81,441.69 249.28,442.06C252.76,442.42 257.4,442.83 263.19,443.53C268.98,444.22 280.57,445.77 284.05,446.22 M179.75,447.93C182.36,447.85 189.6,447.44 195.4,447.44C201.19,447.44 209.3,447.65 214.52,447.93C219.73,448.22 222.92,448.75 226.69,449.16C230.45,449.56 233.35,449.97 237.12,450.38C240.88,450.79 244.94,451.81 249.28,451.6C253.63,451.4 257.4,449.85 263.19,449.16C268.98,448.46 280.57,447.73 284.05,447.44 M179.75,448.42C181.84,448.58 187.92,449.32 192.27,449.4C196.61,449.48 202.12,449.07 205.82,448.91C209.53,448.75 211.56,448.26 214.52,448.42C217.47,448.58 220.31,449.16 223.56,449.89C226.8,450.62 229.7,451.93 233.99,452.83C238.27,453.73 244.42,455.48 249.28,455.28C254.15,455.07 258.79,452.75 263.19,451.6C267.59,450.46 272.23,449.2 275.71,448.42C279.18,447.65 282.66,447.2 284.05,446.95 M179.75,455.28C182.36,454.87 190.53,453.64 195.4,452.83C200.26,452.01 205.77,450.91 208.95,450.38C212.14,449.85 213.59,449.77 214.52,449.65 M179.75,458.7C182.36,458.3 190.53,457.15 195.4,456.26C200.26,455.36 205.77,454.05 208.95,453.32C212.14,452.58 213.59,452.09 214.52,451.85 M179.75,449.16C181.49,449.97 186.7,451.6 190.18,454.05C193.66,456.5 197.48,461.11 200.61,463.84C203.74,466.58 206.64,469.03 208.95,470.45C211.27,471.88 212.43,472.29 214.52,472.41C216.6,472.53 218.57,472.21 221.47,471.19C224.37,470.17 228.77,467.92 231.9,466.29C235.03,464.66 237.35,462.99 240.24,461.4C243.14,459.8 245.46,458.17 249.28,456.74C253.11,455.32 258.79,454.09 263.19,452.83C267.59,451.56 272.23,450.05 275.71,449.16C279.18,448.26 282.66,447.73 284.05,447.44 M214.52,446.71C215.26,446.79 217.2,446.18 218.97,447.2C220.73,448.22 223.03,450.71 225.12,452.83C227.21,454.95 229.54,457.28 231.48,459.93C233.43,462.58 235.03,466.01 236.8,468.74C238.58,471.47 240.35,473.48 242.12,476.32C243.89,479.16 246.25,483.86 247.44,485.78C248.63,487.7 248.05,487.98 249.28,487.83C250.52,487.69 253.15,486.16 254.85,484.9C256.54,483.63 257.05,483.1 259.44,480.25C261.82,477.39 266.21,471.8 269.14,467.76C272.06,463.72 274.47,459.52 276.96,456.01C279.44,452.5 282.87,448.26 284.05,446.71 M214.52,447.44C215.26,447.52 217.2,446.91 218.97,447.93C220.73,448.95 223.03,451.44 225.12,453.56C227.21,455.68 229.54,458.01 231.48,460.66C233.43,463.31 235.03,466.68 236.8,469.47C238.58,472.27 240.35,474.49 242.12,477.41C243.89,480.32 246.25,485.04 247.44,486.98C248.63,488.92 248.05,489.2 249.28,489.06C250.52,488.92 253.15,487.39 254.85,486.12C256.54,484.86 257.05,484.24 259.44,481.47C261.82,478.7 266.6,473.15 269.14,469.47C271.67,465.8 272.87,461.68 274.66,459.44C276.45,457.19 278.31,456.7 279.88,456.01C281.44,455.32 283.35,455.4 284.05,455.28 M214.52,448.42C215.26,448.5 217.2,447.89 218.97,448.91C220.73,449.93 223.03,452.42 225.12,454.54C227.21,456.66 229.54,458.99 231.48,461.64C233.43,464.29 235.03,467.6 236.8,470.45C238.58,473.3 240.35,475.74 242.12,478.74C243.89,481.73 246.25,486.46 247.44,488.42C248.63,490.39 248.05,490.67 249.28,490.53C250.52,490.39 253.15,488.85 254.85,487.59C256.54,486.32 257.05,485.71 259.44,482.94C261.82,480.16 266.6,474.29 269.14,470.94C271.67,467.6 272.87,464.78 274.66,462.86C276.45,460.95 278.31,460.13 279.88,459.44C281.44,458.74 283.35,458.83 284.05,458.7 M179.75,457.72C180.24,458.86 181.11,460.44 182.67,464.52C184.23,468.59 187.29,476.97 189.1,482.18C190.9,487.39 191.97,491.01 193.48,495.77C194.98,500.52 196.49,505.43 198.15,510.71C199.8,515.99 201.6,521.2 203.41,527.47C205.21,533.73 207.88,544.38 208.95,548.3C210.02,552.22 209.68,550.56 209.83,551.02 M179.75,458.7C180.25,459.82 181.14,461.39 182.73,465.42C184.32,469.45 187.46,477.74 189.3,482.89C191.14,488.05 192.23,491.63 193.77,496.33C195.31,501.04 196.85,505.89 198.54,511.12C200.23,516.34 202.07,521.5 203.91,527.69C205.75,533.89 208.49,544.42 209.58,548.3C210.67,552.18 210.33,550.54 210.47,550.99 M184.97,550.75C186.18,547.4 189.73,537.04 192.27,530.67C194.8,524.31 197.59,518.31 200.19,512.56C202.8,506.81 205.52,499.58 207.91,496.16C210.3,492.73 211.91,491.47 214.52,492C217.12,492.53 220.66,496.48 223.56,499.34C226.45,502.2 229.45,506.28 231.9,509.13C234.35,511.99 236.18,514.56 238.26,516.48C240.35,518.39 242.58,519.62 244.42,520.64C246.25,521.66 247.54,521.58 249.28,522.6C251.02,523.62 252.53,524.31 254.85,526.76C257.16,529.21 260.76,533.29 263.19,537.28C265.62,541.28 268.4,548.5 269.45,550.75 M184.18,550.75C185.53,547.89 189.6,539.43 192.27,533.61C194.93,527.8 197.59,521.49 200.19,515.86C202.8,510.23 205.52,503.2 207.91,499.83C210.3,496.46 211.91,495.14 214.52,495.67C217.12,496.2 220.66,500.16 223.56,503.01C226.45,505.87 229.45,509.95 231.9,512.8C234.35,515.66 236.18,518.43 238.26,520.15C240.35,521.86 242.58,522.27 244.42,523.09C246.25,523.9 247.54,524.02 249.28,525.04C251.02,526.06 252.53,526.76 254.85,529.21C257.16,531.65 260.23,536.14 263.19,539.73C266.15,543.32 271.01,548.91 272.58,550.75 M183.4,550.75C184.88,548.38 189.47,541.81 192.27,536.55C195.06,531.29 197.59,524.68 200.19,519.17C202.8,513.66 205.52,506.81 207.91,503.5C210.3,500.2 211.91,498.81 214.52,499.34C217.12,499.87 220.66,503.83 223.56,506.68C226.45,509.54 229.45,513.62 231.9,516.48C234.35,519.33 236.18,522.11 238.26,523.82C240.35,525.53 242.58,525.94 244.42,526.76C246.25,527.57 247.54,527.7 249.28,528.72C251.02,529.74 252.53,530.43 254.85,532.88C257.16,535.33 259.71,540.43 263.19,543.4C266.67,546.38 273.62,549.52 275.71,550.75 M218.86,550.75C220.54,547 225.56,535.45 228.9,528.28C232.25,521.1 235.54,514.33 238.94,507.68C242.34,501.02 247.56,491.55 249.28,488.32 M219.91,550.75C221.52,547.08 226.37,535.75 229.6,528.72C232.83,521.68 236.01,515.05 239.29,508.52C242.58,501.99 247.62,492.71 249.28,489.55 M196.44,550.75C197.55,547.49 200.96,536.64 203.13,531.21C205.3,525.79 207.56,521.05 209.45,518.19C211.35,515.33 212.69,514.03 214.52,514.03C216.34,514.03 218.39,515.66 220.41,518.19C222.44,520.72 224.59,523.78 226.68,529.21C228.77,534.63 231.9,547.16 232.94,550.75 M203.74,550.75C204.4,547.98 206.43,538.76 207.73,534.15C209.02,529.54 210.37,525.62 211.5,523.09C212.63,520.55 212.75,518.92 214.52,518.92C216.28,518.92 219.48,520.56 222.08,523.09C224.68,525.62 227.44,529.49 230.12,534.1C232.8,538.71 236.82,547.97 238.16,550.75 M205.82,550.75C206.36,548.35 208,540.35 209.04,536.35C210.08,532.36 211.17,529.05 212.08,526.76C213,524.46 213.02,522.6 214.52,522.6C216.02,522.6 218.82,524.23 221.08,526.76C223.34,529.29 225.73,533.78 228.05,537.77C230.38,541.77 233.87,548.59 235.03,550.75 M227.73,526.27C228.42,526.88 230.51,529.12 231.9,529.94C233.29,530.76 234.33,531.57 236.07,531.16C237.81,530.76 240.13,528.72 242.33,527.49C244.53,526.27 248.12,524.43 249.28,523.82 M227.73,531.16C228.42,531.78 230.51,534.02 231.9,534.84C233.29,535.65 234.33,536.47 236.07,536.06C237.81,535.65 240.13,533.82 242.33,532.39C244.53,530.96 248.12,528.31 249.28,527.49 M227.73,534.84C228.42,535.45 230.51,537.69 231.9,538.51C233.29,539.32 234.33,540.14 236.07,539.73C237.81,539.32 240.13,537.49 242.33,536.06C244.53,534.63 248.12,531.98 249.28,531.16 M195.4,550.75C196.44,547.48 199.57,536.26 201.65,531.16C203.74,526.06 206.35,522.6 207.91,520.15C209.48,517.7 210.52,517.09 211.04,516.48" fill="none" stroke="#0c0cd2" stroke-width="2.45" stroke-linejoin="round" stroke-linecap="round"/></g>
<rect x="179.75" y="303.5" width="104.3" height="244.8" fill="none" stroke="#a0a0a0" stroke-width="1.3"/>
<path d="M179.75,548.3h3M284.05,548.3h-3M179.75,523.82h3M284.05,523.82h-3M179.75,499.34h3M284.05,499.34h-3M179.75,474.86h3M284.05,474.86h-3M179.75,450.38h3M284.05,450.38h-3M179.75,425.9h3M284.05,425.9h-3M179.75,401.42h3M284.05,401.42h-3M179.75,376.94h3M284.05,376.94h-3M179.75,352.46h3M284.05,352.46h-3M179.75,327.98h3M284.05,327.98h-3M179.75,303.5h3M284.05,303.5h-3" stroke="#909090" stroke-width="1.1" fill="none"/>
<text x="175.85" y="552.15" text-anchor="end" class="tl">-5</text>
<text x="175.85" y="527.67" text-anchor="end" class="tl">-4</text>
<text x="175.85" y="503.19" text-anchor="end" class="tl">-3</text>
<text x="175.85" y="478.71" text-anchor="end" class="tl">-2</text>
<text x="175.85" y="454.23" text-anchor="end" class="tl">-1</text>
<text x="175.85" y="429.75" text-anchor="end" class="tl">0</text>
<text x="175.85" y="405.27" text-anchor="end" class="tl">1</text>
<text x="175.85" y="380.79" text-anchor="end" class="tl">2</text>
<text x="175.85" y="356.31" text-anchor="end" class="tl">3</text>
<text x="175.85" y="331.83" text-anchor="end" class="tl">4</text>
<text x="175.85" y="307.35" text-anchor="end" class="tl">5</text>
<text x="179.75" y="562.5" text-anchor="middle" class="xl">X</text>
<text x="214.52" y="562.5" text-anchor="middle" class="xg">Γ</text>
<text x="249.28" y="562.5" text-anchor="middle" class="xl">M</text>
<text x="284.05" y="562.5" text-anchor="middle" class="xl">X</text>
<clipPath id="c6"><rect x="311.95" y="303.5" width="104.5" height="244.8"/></clipPath>
<line x1="346.78" y1="303.5" x2="346.78" y2="548.3" stroke="#e0e0e0" stroke-width="0.8"/>
<line x1="381.62" y1="303.5" x2="381.62" y2="548.3" stroke="#e0e0e0" stroke-width="0.8"/>
<line x1="311.95" y1="426" x2="416.45" y2="426" stroke="#c4f2c4" stroke-width="2.4"/>
<line x1="311.95" y1="426" x2="416.45" y2="426" stroke="#3cbf3c" stroke-width="1.2" stroke-dasharray="1,1.05"/>
<g clip-path="url(#c6)"><path d="M311.95,306.19C312.77,306.85 314.61,307.62 316.86,310.11C319.11,312.6 322.78,315.94 325.43,321.13C328.08,326.31 330.29,335.36 332.75,341.2C335.2,347.03 338.23,352.42 340.16,356.13C342.1,359.84 343.24,361.88 344.34,363.48C345.45,365.07 345.93,365.44 346.78,365.68C347.64,365.92 348.38,365.54 349.48,364.9C350.58,364.27 351.38,364.31 353.37,361.87C355.37,359.42 359.49,353.63 361.46,350.23C363.43,346.84 363.88,345.52 365.21,341.51C366.53,337.5 368.07,331.05 369.4,326.19C370.73,321.33 371.98,316.55 373.21,312.36C374.43,308.17 376.15,302.94 376.74,301.05 M328.45,296.16C328.89,297.91 330.2,303.44 331.07,306.68C331.94,309.91 332.82,312.88 333.69,315.58C334.56,318.28 335.44,320.71 336.31,322.86C337.18,325.02 338.05,326.91 338.93,328.53C339.8,330.15 340.67,331.5 341.55,332.58C342.42,333.66 343.29,334.46 344.16,335C345.04,335.54 345.69,335.81 346.78,335.81C347.87,335.81 349.39,335.54 350.7,335C352,334.46 353.31,333.66 354.61,332.58C355.92,331.5 357.22,330.15 358.53,328.53C359.83,326.91 361.13,325.02 362.44,322.86C363.74,320.71 365.05,318.28 366.35,315.58C367.66,312.88 368.96,309.91 370.27,306.68C371.57,303.44 373.53,297.91 374.18,296.16 M336.25,300.16C336.83,301.17 338.66,304.67 339.76,306.23C340.86,307.8 341.66,308.74 342.83,309.55C344,310.36 345.47,311.09 346.78,311.09C348.1,311.09 349.56,310.36 350.73,309.55C351.9,308.74 352.71,307.8 353.81,306.23C354.9,304.67 356.73,301.17 357.32,300.16 M337.19,300.7C337.72,301.55 339.39,304.48 340.39,305.79C341.39,307.1 342.12,307.9 343.19,308.58C344.25,309.25 345.58,309.86 346.78,309.86C347.98,309.86 349.31,309.25 350.38,308.58C351.45,307.9 352.18,307.1 353.18,305.79C354.18,304.48 355.84,301.55 356.38,300.7 M311.95,363.72C313,362.51 315.96,358.89 318.22,356.47C320.48,354.06 323.1,350.96 325.53,349.23C327.97,347.5 329.31,346.74 332.85,346.1C336.39,345.45 342.6,345.28 346.78,345.36C350.96,345.44 354.68,345.89 357.93,346.58C361.18,347.28 363.5,348.22 366.29,349.52C369.08,350.83 372.1,353.19 374.65,354.42C377.2,355.64 380.46,356.46 381.62,356.87 M311.95,363.72C312.65,364.3 314.3,365.49 316.13,367.22C317.96,368.95 320.92,372.52 322.92,374.1C324.93,375.68 326.06,376.67 328.15,376.7C330.24,376.72 333.2,375.56 335.46,374.27C337.73,372.99 339.85,370.42 341.73,368.98C343.62,367.55 345.94,366.23 346.78,365.68 M346.78,365.68C348.29,365.58 352.94,365.33 355.84,365.07C358.74,364.8 361.41,364.72 364.2,364.09C366.99,363.46 369.66,362.48 372.56,361.27C375.46,360.07 380.11,357.6 381.62,356.87 M381.62,356.87C383.07,357.75 387.13,360.69 390.32,362.15C393.52,363.62 397.64,365.25 400.77,365.68C403.91,366.1 406.52,365.03 409.13,364.7C411.75,364.37 415.23,363.88 416.45,363.72 M375.49,298.6C376.51,301.5 378.27,314.01 381.62,315.98C384.96,317.96 391.2,311.94 395.55,310.46C399.9,308.99 404.26,307.91 407.74,307.15C411.23,306.4 414.13,306.23 416.45,305.95C418.77,305.67 420.8,305.54 421.68,305.46 M311.95,306.19C312.82,305.95 315.26,305.38 317.18,304.72C319.09,304.07 322.4,302.68 323.44,302.28 M344.48,365.31C344.87,365.45 345.96,366.16 346.78,366.17C347.6,366.18 348.96,365.52 349.4,365.39 M311.95,448.67C312.92,445.55 315.44,433.35 317.74,429.96C320.04,426.58 323.02,428.37 325.74,428.35C328.47,428.32 331.53,429.61 334.1,429.82C336.68,430.02 339.1,429.53 341.21,429.57C343.32,429.61 344.69,430.06 346.78,430.06C348.87,430.06 350.85,429.8 353.75,429.57C356.65,429.35 361.06,428.76 364.2,428.72C367.33,428.67 369.66,429.39 372.56,429.33C375.46,429.27 378.66,428.35 381.62,428.35C384.58,428.35 387.13,428.22 390.32,429.33C393.52,430.44 397.64,433 400.77,435.02C403.91,437.04 406.52,439.17 409.13,441.44C411.75,443.72 415.23,447.46 416.45,448.67 M311.95,448.67C313,447.65 315.92,443.97 318.22,442.55C320.52,441.12 322.96,440.18 325.74,440.1C328.53,440.02 331.43,441.32 334.94,442.06C338.45,442.79 343.3,444.42 346.78,444.5C350.27,444.59 352.59,443.36 355.84,442.55C359.09,441.73 363.15,440.34 366.29,439.61C369.42,438.87 372.1,438.43 374.65,438.14C377.2,437.85 378.48,437.69 381.62,437.9C384.75,438.1 389.4,438.3 393.46,439.36C397.52,440.42 402.17,442.71 406,444.26C409.83,445.81 414.71,447.93 416.45,448.67 M311.95,449.16C314.56,449.03 321.82,448.63 327.62,448.42C333.43,448.22 342.78,448.22 346.78,447.93C350.79,447.65 349.63,447.93 351.66,446.71C353.69,445.48 356.88,442.34 358.97,440.59C361.06,438.83 361.94,437.81 364.2,436.18C366.46,434.55 369.66,432.02 372.56,430.8C375.46,429.57 378.66,428.92 381.62,428.84C384.58,428.76 387.13,429.16 390.32,430.31C393.52,431.45 397.64,433.73 400.77,435.69C403.91,437.65 406.52,439.89 409.13,442.06C411.75,444.22 415.23,447.56 416.45,448.67 M311.95,449.65C314.56,449.56 321.82,449.24 327.62,449.16C333.43,449.07 341.56,449.44 346.78,449.16C352.01,448.87 355.2,447.85 358.97,447.44C362.75,447.03 365.65,446.63 369.43,446.71C373.2,446.79 377.26,447.65 381.62,447.93C385.97,448.22 389.74,448.3 395.55,448.42C401.36,448.54 412.97,448.63 416.45,448.67 M311.95,450.38C314.56,450.46 321.82,450.67 327.62,450.87C333.43,451.07 341.56,451.28 346.78,451.6C352.01,451.93 355.2,452.54 358.97,452.83C362.75,453.11 365.65,452.91 369.43,453.32C373.2,453.73 377.26,455.44 381.62,455.28C385.97,455.11 389.74,453.36 395.55,452.34C401.36,451.32 412.97,449.69 416.45,449.16 M311.95,459.44C314.56,459.07 322.75,458.25 327.62,457.23C332.5,456.21 338.02,454.26 341.21,453.32C344.4,452.38 345.85,451.89 346.78,451.6 M311.95,461.4C314.56,461.11 322.75,460.62 327.62,459.68C332.5,458.74 338.02,456.7 341.21,455.77C344.4,454.83 345.85,454.34 346.78,454.05 M311.95,450.38C313.92,450.79 320.28,451.4 323.76,452.83C327.24,454.26 329.94,457.32 332.85,458.95C335.76,460.58 338.89,461.89 341.21,462.62C343.53,463.35 343.94,463.56 346.78,463.35C349.62,463.15 354.47,462.33 358.24,461.4C362.02,460.46 365.53,458.74 369.43,457.72C373.32,456.7 377.26,456.09 381.62,455.28C385.97,454.46 391.14,453.73 395.55,452.83C399.96,451.93 404.61,450.54 408.09,449.89C411.57,449.24 415.06,449.07 416.45,448.91 M311.95,451.6C313.92,452.22 320.28,452.62 323.76,455.28C327.24,457.93 329.94,464.05 332.85,467.52C335.76,470.98 338.89,474.33 341.21,476.08C343.53,477.84 343.94,478.25 346.78,478.04C349.62,477.84 354.47,476.61 358.24,474.86C362.02,473.11 365.53,470.37 369.43,467.52C373.32,464.66 377.26,459.97 381.62,457.72C385.97,455.48 391.14,455.28 395.55,454.05C399.96,452.83 404.61,451.2 408.09,450.38C411.57,449.56 415.06,449.36 416.45,449.16 M346.78,447.93C347.53,448.01 349.47,447.4 351.24,448.42C353.01,449.44 355.32,451.93 357.41,454.05C359.5,456.17 361.83,458.5 363.78,461.15C365.73,463.8 367.33,466.88 369.11,469.96C370.89,473.05 372.66,476.35 374.44,479.66C376.22,482.96 378.57,487.74 379.77,489.79C380.97,491.85 380.38,492.12 381.62,492C382.85,491.87 385.49,490.32 387.19,489.06C388.89,487.79 389.4,487.26 391.79,484.41C394.17,481.55 398.58,475.96 401.51,471.92C404.43,467.88 406.85,464.05 409.34,460.17C411.83,456.3 415.27,450.58 416.45,448.67 M346.78,448.42C347.53,448.5 349.47,447.89 351.24,448.91C353.01,449.93 355.32,452.42 357.41,454.54C359.5,456.66 361.83,458.99 363.78,461.64C365.73,464.29 367.33,467.22 369.11,470.45C370.89,473.68 372.66,477.53 374.44,481.03C376.22,484.53 378.57,489.33 379.77,491.45C380.97,493.56 380.38,493.82 381.62,493.71C382.85,493.6 385.49,492.04 387.19,490.77C388.89,489.51 389.4,488.9 391.79,486.12C394.17,483.35 398.96,477.76 401.51,474.13C404.05,470.49 405.25,466.54 407.04,464.33C408.84,462.13 410.7,461.6 412.27,460.91C413.84,460.21 415.75,460.29 416.45,460.17 M346.78,449.16C347.53,449.24 349.47,448.63 351.24,449.65C353.01,450.67 355.32,453.15 357.41,455.28C359.5,457.4 361.83,459.72 363.78,462.38C365.73,465.03 367.33,467.87 369.11,471.19C370.89,474.51 372.66,478.68 374.44,482.29C376.22,485.91 378.57,490.73 379.77,492.88C380.97,495.02 380.38,495.28 381.62,495.18C382.85,495.07 385.49,493.51 387.19,492.24C388.89,490.98 389.4,490.36 391.79,487.59C394.17,484.82 398.96,479.18 401.51,475.59C404.05,472 405.25,468.21 407.04,466.05C408.84,463.88 410.7,463.31 412.27,462.62C413.84,461.93 415.75,462.01 416.45,461.89 M346.78,450.38C347.53,450.46 349.47,449.85 351.24,450.87C353.01,451.89 355.32,454.38 357.41,456.5C359.5,458.62 361.83,460.95 363.78,463.6C365.73,466.25 367.33,469.03 369.11,472.41C370.89,475.79 372.66,480.18 374.44,483.87C376.22,487.56 378.57,492.4 379.77,494.57C380.97,496.74 380.38,496.99 381.62,496.89C382.85,496.79 385.49,495.22 387.19,493.95C388.89,492.69 389.4,492.08 391.79,489.3C394.17,486.53 398.96,480.94 401.51,477.31C404.05,473.68 405.25,469.72 407.04,467.52C408.84,465.31 410.7,464.78 412.27,464.09C413.84,463.4 415.75,463.48 416.45,463.35 M311.95,460.17C312.43,461.27 313.29,462.82 314.82,466.78C316.36,470.75 319.37,478.9 321.15,483.97C322.92,489.03 323.97,492.56 325.46,497.19C326.94,501.81 328.43,506.59 330.05,511.73C331.68,516.87 333.46,521.94 335.23,528.03C337,534.13 339.63,544.48 340.69,548.3C341.74,552.12 341.41,550.5 341.55,550.94 M311.95,461.89C312.44,462.97 313.32,464.48 314.88,468.37C316.44,472.26 319.51,480.25 321.31,485.22C323.12,490.19 324.19,493.64 325.7,498.18C327.21,502.72 328.73,507.4 330.38,512.44C332.04,517.48 333.85,522.45 335.65,528.42C337.45,534.4 340.14,544.56 341.21,548.3C342.28,552.04 341.94,550.46 342.09,550.89 M311.95,463.35C312.45,464.42 313.34,465.9 314.93,469.73C316.52,473.55 319.64,481.41 321.48,486.29C323.32,491.17 324.41,494.57 325.95,499.03C327.49,503.49 329.03,508.09 330.71,513.05C332.4,518 334.24,522.89 336.07,528.76C337.91,534.64 340.64,544.62 341.73,548.3C342.82,551.98 342.48,550.42 342.63,550.85 M316.86,550.75C318.13,547.6 321.89,537.99 324.49,531.85C327.09,525.7 329.82,519.58 332.43,513.88C335.04,508.18 337.77,501.03 340.16,497.63C342.56,494.22 344.17,492.93 346.78,493.46C349.4,494 352.94,497.95 355.84,500.81C358.74,503.66 361.74,507.74 364.2,510.6C366.66,513.46 368.48,516.07 370.57,517.94C372.66,519.82 374.9,520.88 376.74,521.86C378.58,522.84 379.88,522.8 381.62,523.82C383.36,524.84 384.87,525.53 387.19,527.98C389.51,530.43 393.11,534.71 395.55,538.51C397.99,542.3 400.77,548.71 401.82,550.75 M316.18,550.75C317.57,548.02 321.78,540.06 324.49,534.4C327.2,528.73 329.82,522.34 332.43,516.75C335.04,511.15 337.77,504.16 340.16,500.81C342.56,497.46 344.17,496.12 346.78,496.65C349.4,497.18 352.94,501.14 355.84,503.99C358.74,506.85 361.74,510.93 364.2,513.78C366.66,516.64 368.48,519.37 370.57,521.13C372.66,522.88 374.9,523.45 376.74,524.31C378.58,525.17 379.88,525.25 381.62,526.27C383.36,527.29 384.87,527.98 387.19,530.43C389.51,532.88 392.76,537.57 395.55,540.96C398.34,544.34 402.52,549.12 403.91,550.75 M315.61,550.75C317.09,548.38 321.69,541.81 324.49,536.55C327.29,531.29 329.82,524.68 332.43,519.17C335.04,513.66 337.77,506.81 340.16,503.5C342.56,500.2 344.17,498.81 346.78,499.34C349.4,499.87 352.94,503.83 355.84,506.68C358.74,509.54 361.74,513.62 364.2,516.48C366.66,519.33 368.48,522.11 370.57,523.82C372.66,525.53 374.9,525.94 376.74,526.76C378.58,527.57 379.88,527.7 381.62,528.72C383.36,529.74 384.87,530.43 387.19,532.88C389.51,535.33 392.42,540.43 395.55,543.4C398.69,546.38 404.26,549.52 406,550.75 M314.98,550.75C316.57,548.77 321.58,543.72 324.49,538.9C327.4,534.08 329.82,527.22 332.43,521.81C335.04,516.4 337.77,509.7 340.16,506.44C342.56,503.18 344.17,501.75 346.78,502.28C349.4,502.81 352.94,506.77 355.84,509.62C358.74,512.48 361.74,516.56 364.2,519.41C366.66,522.27 368.48,525.13 370.57,526.76C372.66,528.39 374.9,528.47 376.74,529.21C378.58,529.94 379.88,530.14 381.62,531.16C383.36,532.18 384.87,532.88 387.19,535.33C389.51,537.77 392.07,543.28 395.55,545.85C399.03,548.42 406,549.93 408.09,550.75 M350.62,550.75C352.32,547.3 357.44,536.65 360.85,530.04C364.26,523.42 367.61,517.19 371.08,511.05C374.54,504.92 379.86,496.19 381.62,493.22 M351.66,550.75C353.31,547.37 358.25,536.95 361.55,530.48C364.84,524 368.09,517.9 371.43,511.9C374.78,505.89 379.92,497.35 381.62,494.44 M352.7,550.75C354.3,547.44 359.07,537.25 362.25,530.92C365.43,524.58 368.56,518.62 371.79,512.74C375.02,506.87 379.98,498.51 381.62,495.67 M328.67,550.75C329.79,547.79 333.2,537.91 335.37,532.98C337.55,528.04 339.81,523.8 341.71,521.13C343.61,518.46 344.95,516.97 346.78,516.97C348.61,516.97 350.66,518.6 352.69,521.13C354.72,523.66 356.88,527.21 358.97,532.14C361.06,537.08 364.2,547.65 365.25,550.75 M335.99,550.75C336.65,548.32 338.68,540.25 339.98,536.21C341.28,532.17 342.63,528.82 343.76,526.51C344.89,524.2 345.02,522.35 346.78,522.35C348.55,522.35 351.76,523.98 354.36,526.51C356.97,529.04 359.73,533.49 362.42,537.53C365.1,541.57 369.13,548.54 370.47,550.75 M338.07,550.75C338.61,548.59 340.25,541.41 341.3,537.82C342.34,534.23 343.43,531.34 344.34,529.21C345.26,527.08 345.28,525.04 346.78,525.04C348.29,525.04 351.1,526.68 353.36,529.21C355.62,531.74 358.02,536.63 360.35,540.22C362.68,543.81 366.17,548.99 367.33,550.75 M360.02,528.72C360.72,529.33 362.81,531.57 364.2,532.39C365.59,533.2 366.64,534.02 368.38,533.61C370.12,533.2 372.44,531.16 374.65,529.94C376.86,528.72 380.46,526.88 381.62,526.27 M360.02,532.39C360.72,533 362.81,535.24 364.2,536.06C365.59,536.88 366.64,537.69 368.38,537.28C370.12,536.88 372.44,535.04 374.65,533.61C376.86,532.18 380.46,529.53 381.62,528.72 M360.02,536.06C360.72,536.67 362.81,538.92 364.2,539.73C365.59,540.55 366.64,541.36 368.38,540.96C370.12,540.55 372.44,538.71 374.65,537.28C376.86,535.86 380.46,533.2 381.62,532.39 M360.02,538.51C360.72,539.12 362.81,541.36 364.2,542.18C365.59,543 366.64,543.81 368.38,543.4C370.12,543 372.44,541.16 374.65,539.73C376.86,538.3 380.46,535.65 381.62,534.84 M327.62,550.75C328.67,547.48 331.81,535.86 333.89,531.16C335.98,526.47 338.6,524.64 340.16,522.6C341.73,520.56 342.78,519.54 343.3,518.92" fill="none" stroke="#0c0cd2" stroke-width="2.45" stroke-linejoin="round" stroke-linecap="round"/></g>
<rect x="311.95" y="303.5" width="104.5" height="244.8" fill="none" stroke="#a0a0a0" stroke-width="1.3"/>
<path d="M311.95,548.3h3M416.45,548.3h-3M311.95,523.82h3M416.45,523.82h-3M311.95,499.34h3M416.45,499.34h-3M311.95,474.86h3M416.45,474.86h-3M311.95,450.38h3M416.45,450.38h-3M311.95,425.9h3M416.45,425.9h-3M311.95,401.42h3M416.45,401.42h-3M311.95,376.94h3M416.45,376.94h-3M311.95,352.46h3M416.45,352.46h-3M311.95,327.98h3M416.45,327.98h-3M311.95,303.5h3M416.45,303.5h-3" stroke="#909090" stroke-width="1.1" fill="none"/>
<text x="308.05" y="552.15" text-anchor="end" class="tl">-5</text>
<text x="308.05" y="527.67" text-anchor="end" class="tl">-4</text>
<text x="308.05" y="503.19" text-anchor="end" class="tl">-3</text>
<text x="308.05" y="478.71" text-anchor="end" class="tl">-2</text>
<text x="308.05" y="454.23" text-anchor="end" class="tl">-1</text>
<text x="308.05" y="429.75" text-anchor="end" class="tl">0</text>
<text x="308.05" y="405.27" text-anchor="end" class="tl">1</text>
<text x="308.05" y="380.79" text-anchor="end" class="tl">2</text>
<text x="308.05" y="356.31" text-anchor="end" class="tl">3</text>
<text x="308.05" y="331.83" text-anchor="end" class="tl">4</text>
<text x="308.05" y="307.35" text-anchor="end" class="tl">5</text>
<text x="311.95" y="562.5" text-anchor="middle" class="xl">X</text>
<text x="346.78" y="562.5" text-anchor="middle" class="xg">Γ</text>
<text x="381.62" y="562.5" text-anchor="middle" class="xl">M</text>
<text x="416.45" y="562.5" text-anchor="middle" class="xl">X</text>
<path d="M488.4,77.9H682.8V234.3" fill="none" stroke="#858585" stroke-width="1.2"/>
<path d="M488.4,77.9V234.3H682.8" fill="none" stroke="#484848" stroke-width="1.1"/>
<path d="M488.4,234.3h3M488.4,221.27h1.6M488.4,208.23h3M488.4,195.2h1.6M488.4,182.17h3M488.4,169.13h1.6M488.4,156.1h3M488.4,143.07h1.6M488.4,130.03h3M488.4,117h1.6M488.4,103.97h3M488.4,90.93h1.6M488.4,77.9h3M504.6,234.3v3.3M537,234.3v3.3M569.4,234.3v3.3M601.8,234.3v3.3M634.2,234.3v3.3M666.6,234.3v3.3M520.8,234.3v-1.3M553.2,234.3v-1.3M585.6,234.3v-1.3M618,234.3v-1.3M650.4,234.3v-1.3" stroke="#505050" stroke-width="0.9" fill="none"/>
<text x="484.9" y="236.6" text-anchor="end" class="gl">1.8</text>
<text x="484.9" y="210.53" text-anchor="end" class="gl">2.0</text>
<text x="484.9" y="184.47" text-anchor="end" class="gl">2.2</text>
<text x="484.9" y="158.4" text-anchor="end" class="gl">2.4</text>
<text x="484.9" y="132.33" text-anchor="end" class="gl">2.6</text>
<text x="484.9" y="106.27" text-anchor="end" class="gl">2.8</text>
<text x="484.9" y="80.2" text-anchor="end" class="gl">3.0</text>
<text x="504.6" y="244.8" text-anchor="middle" class="gl">1</text>
<text x="537" y="244.8" text-anchor="middle" class="gl">2</text>
<text x="569.4" y="244.8" text-anchor="middle" class="gl">3</text>
<text x="601.8" y="244.8" text-anchor="middle" class="gl">4</text>
<text x="634.2" y="244.8" text-anchor="middle" class="gl">5</text>
<text x="666.6" y="244.8" text-anchor="middle" class="gl">6</text>
<polyline points="504.6,89.63 537,158.58 569.4,181.91 601.8,194.42 634.2,201.85 666.6,216.05" fill="none" stroke="#1a1ad0" stroke-width="1.3"/>
<polyline points="504.6,89.63 537,157.53 569.4,180.6 601.8,193.51 634.2,201.2 666.6,207.97" fill="none" stroke="#101020" stroke-width="1.3"/>
<circle cx="504.6" cy="89.63" r="1.9" fill="#e01818"/>
<circle cx="537" cy="158.58" r="1.9" fill="#e01818"/>
<circle cx="569.4" cy="181.91" r="1.9" fill="#e01818"/>
<circle cx="601.8" cy="194.42" r="1.9" fill="#e01818"/>
<circle cx="634.2" cy="201.85" r="1.9" fill="#e01818"/>
<circle cx="666.6" cy="216.05" r="1.9" fill="#e01818"/>
<circle cx="504.6" cy="89.63" r="1.9" fill="#30e0e8"/>
<circle cx="537" cy="157.53" r="1.9" fill="#30e0e8"/>
<circle cx="569.4" cy="180.6" r="1.9" fill="#30e0e8"/>
<circle cx="601.8" cy="193.51" r="1.9" fill="#30e0e8"/>
<circle cx="634.2" cy="201.2" r="1.9" fill="#30e0e8"/>
<circle cx="666.6" cy="207.97" r="1.9" fill="#30e0e8"/>
<rect x="636.3" y="86.3" width="33.3" height="21.5" fill="#fff" stroke="#909090" stroke-width="0.8"/>
<line x1="636.9" y1="91.9" x2="655.9" y2="91.9" stroke="#1c1cd0" stroke-width="1.35"/>
<line x1="636.9" y1="102" x2="655.9" y2="102" stroke="#101010" stroke-width="1.35"/>
<circle cx="646.3" cy="91.9" r="2.2" fill="#e01818"/>
<circle cx="646.3" cy="102" r="2.2" fill="#30e0e8"/>
<text x="657.7" y="94.8" class="lg">AA</text>
<text x="657.7" y="104.9" class="lg">AB</text>
<text x="585.6" y="258" text-anchor="middle" class="gt">Number of layers / n</text>
<text transform="translate(473.2,156.1) rotate(-90)" text-anchor="middle" class="gt">Energy Gap&#160;&#160;(eV)</text>
<path d="M488.2,352.1H683V508.4" fill="none" stroke="#858585" stroke-width="1.2"/>
<path d="M488.2,352.1V508.4H683" fill="none" stroke="#484848" stroke-width="1.1"/>
<path d="M488.2,508.4h3M488.2,495.38h1.6M488.2,482.35h3M488.2,469.32h1.6M488.2,456.3h3M488.2,443.28h1.6M488.2,430.25h3M488.2,417.23h1.6M488.2,404.2h3M488.2,391.18h1.6M488.2,378.15h3M488.2,365.12h1.6M488.2,352.1h3M507.68,508.4v-2.4M546.64,508.4v-2.4M585.6,508.4v-2.4M624.56,508.4v-2.4M663.52,508.4v-2.4M527.16,508.4v-1.3M566.12,508.4v-1.3M605.08,508.4v-1.3M644.04,508.4v-1.3" stroke="#505050" stroke-width="0.9" fill="none"/>
<text x="484.7" y="510.7" text-anchor="end" class="gl">1.8</text>
<text x="484.7" y="484.65" text-anchor="end" class="gl">2.0</text>
<text x="484.7" y="458.6" text-anchor="end" class="gl">2.2</text>
<text x="484.7" y="432.55" text-anchor="end" class="gl">2.4</text>
<text x="484.7" y="406.5" text-anchor="end" class="gl">2.6</text>
<text x="484.7" y="380.45" text-anchor="end" class="gl">2.8</text>
<text x="484.7" y="354.4" text-anchor="end" class="gl">3.0</text>
<text x="507.68" y="518.9" text-anchor="middle" class="gl">0.2</text>
<text x="546.64" y="518.9" text-anchor="middle" class="gl">0.4</text>
<text x="585.6" y="518.9" text-anchor="middle" class="gl">0.6</text>
<text x="624.56" y="518.9" text-anchor="middle" class="gl">0.8</text>
<text x="663.52" y="518.9" text-anchor="middle" class="gl">1.0</text>
<polyline points="663.52,363.82 566.12,432.72 533.65,456.04 517.42,468.54 507.68,475.97 501.19,490.16" fill="none" stroke="#1a1ad0" stroke-width="1.3"/>
<polyline points="663.52,363.82 566.12,431.68 533.65,454.74 517.42,467.63 507.68,475.32 501.19,482.09" fill="none" stroke="#101020" stroke-width="1.3"/>
<circle cx="663.52" cy="363.82" r="1.9" fill="#e01818"/>
<circle cx="566.12" cy="432.72" r="1.9" fill="#e01818"/>
<circle cx="533.65" cy="456.04" r="1.9" fill="#e01818"/>
<circle cx="517.42" cy="468.54" r="1.9" fill="#e01818"/>
<circle cx="507.68" cy="475.97" r="1.9" fill="#e01818"/>
<circle cx="501.19" cy="490.16" r="1.9" fill="#e01818"/>
<circle cx="663.52" cy="363.82" r="1.9" fill="#30e0e8"/>
<circle cx="566.12" cy="431.68" r="1.9" fill="#30e0e8"/>
<circle cx="533.65" cy="454.74" r="1.9" fill="#30e0e8"/>
<circle cx="517.42" cy="467.63" r="1.9" fill="#30e0e8"/>
<circle cx="507.68" cy="475.32" r="1.9" fill="#30e0e8"/>
<circle cx="501.19" cy="482.09" r="1.9" fill="#30e0e8"/>
<rect x="635.2" y="434.9" width="33.3" height="21.6" fill="#fff" stroke="#909090" stroke-width="0.8"/>
<line x1="635.8" y1="440.5" x2="654.8" y2="440.5" stroke="#1c1cd0" stroke-width="1.35"/>
<line x1="635.8" y1="450.6" x2="654.8" y2="450.6" stroke="#101010" stroke-width="1.35"/>
<circle cx="645.2" cy="440.5" r="2.2" fill="#e01818"/>
<circle cx="645.2" cy="450.6" r="2.2" fill="#30e0e8"/>
<text x="656.6" y="443.4" class="lg">AA</text>
<text x="656.6" y="453.5" class="lg">AB</text>
<text x="585.6" y="529.5" text-anchor="middle" class="gt">1/n</text>
<text transform="translate(473.2,430.25) rotate(-90)" text-anchor="middle" class="gt">Energy Gap&#160;&#160;(eV)</text>
<text x="1.6" y="17.2" class="pl">(a)</text>
<text x="0.5" y="298.6" class="pl">(b)</text>
<text x="442.3" y="72.6" class="pl">(c)</text>
<text x="441.3" y="346.5" class="pl">(d)</text>
</svg>
</body></html>
